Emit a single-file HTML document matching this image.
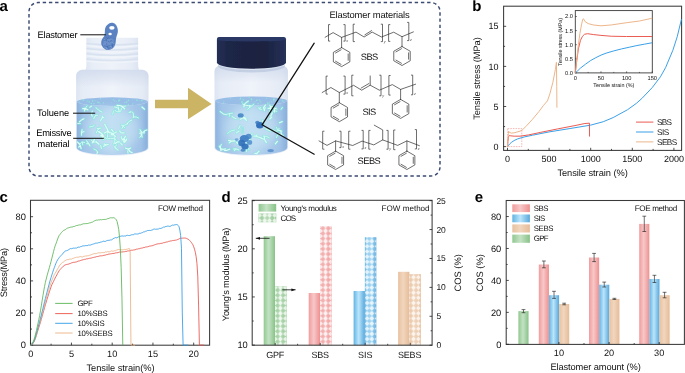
<!DOCTYPE html>
<html><head><meta charset="utf-8"><title>Figure</title>
<style>html,body{margin:0;padding:0;background:#fff;}body{width:685px;height:373px;overflow:hidden;font-family:"Liberation Sans",sans-serif;}svg{display:block;will-change:transform;text-rendering:geometricPrecision;}</style>
</head><body>
<svg width="685" height="373" viewBox="0 0 685 373" font-family="Liberation Sans, sans-serif">
<defs>
<linearGradient id="gG" x1="0" x2="1" y1="0" y2="0"><stop offset="0" stop-color="#90c890"/><stop offset="0.45" stop-color="#c4e2c4"/><stop offset="1" stop-color="#88c288"/></linearGradient>
<linearGradient id="gR" x1="0" x2="1" y1="0" y2="0"><stop offset="0" stop-color="#f19c9c"/><stop offset="0.45" stop-color="#f7c8c8"/><stop offset="1" stop-color="#ef9090"/></linearGradient>
<linearGradient id="gB" x1="0" x2="1" y1="0" y2="0"><stop offset="0" stop-color="#62b4e4"/><stop offset="0.45" stop-color="#bbe5fb"/><stop offset="1" stop-color="#58a8dc"/></linearGradient>
<linearGradient id="gT" x1="0" x2="1" y1="0" y2="0"><stop offset="0" stop-color="#e8c2a0"/><stop offset="0.45" stop-color="#f1d6be"/><stop offset="1" stop-color="#e6bc98"/></linearGradient>
<filter id="b1" x="-20%" y="-20%" width="140%" height="140%"><feGaussianBlur stdDeviation="0.6"/></filter>
<filter id="b2" x="-20%" y="-20%" width="140%" height="140%"><feGaussianBlur stdDeviation="1.2"/></filter>
<filter id="b3" x="-30%" y="-30%" width="160%" height="160%"><feGaussianBlur stdDeviation="4"/></filter>
<filter id="b05" x="-20%" y="-20%" width="140%" height="140%"><feGaussianBlur stdDeviation="0.35"/></filter>
<linearGradient id="glass" x1="0" x2="1" y1="0" y2="0"><stop offset="0" stop-color="#dde5f2"/><stop offset="0.08" stop-color="#e6ecf6"/><stop offset="0.5" stop-color="#eff3fa"/><stop offset="0.92" stop-color="#e5ebf5"/><stop offset="1" stop-color="#dae3f0"/></linearGradient>
<linearGradient id="gshade" x1="0" x2="0" y1="0" y2="1"><stop offset="0" stop-color="#c6d2e8" stop-opacity="0.6"/><stop offset="1" stop-color="#c3d0e6" stop-opacity="0"/></linearGradient>
<linearGradient id="neck" x1="0" x2="1" y1="0" y2="0"><stop offset="0" stop-color="#dbe4f1"/><stop offset="0.15" stop-color="#e8eef7"/><stop offset="0.5" stop-color="#eef2f9"/><stop offset="0.85" stop-color="#e6ecf6"/><stop offset="1" stop-color="#d9e2f0"/></linearGradient>
<linearGradient id="liq" x1="0" x2="1" y1="0" y2="0"><stop offset="0" stop-color="#8db4e0"/><stop offset="0.1" stop-color="#a2c4e8"/><stop offset="0.5" stop-color="#b2d1ee"/><stop offset="0.9" stop-color="#a0c2e7"/><stop offset="1" stop-color="#88b0dc"/></linearGradient>
<linearGradient id="cap" x1="0" x2="1" y1="0" y2="0"><stop offset="0" stop-color="#252f55"/><stop offset="0.2" stop-color="#1c2545"/><stop offset="0.7" stop-color="#1a2240"/><stop offset="1" stop-color="#263158"/></linearGradient>
</defs>
<rect width="685" height="373" fill="#fff"/>
<text x="-0.6" y="10.9" font-size="15" text-anchor="start" font-weight="bold" fill="#000" >a</text>
<text x="472.2" y="11.3" font-size="15" text-anchor="start" font-weight="bold" fill="#000" >b</text>
<text x="-0.5" y="201.9" font-size="15" text-anchor="start" font-weight="bold" fill="#000" >c</text>
<text x="221.5" y="201.9" font-size="15" text-anchor="start" font-weight="bold" fill="#000" >d</text>
<text x="474.7" y="201.9" font-size="15" text-anchor="start" font-weight="bold" fill="#000" >e</text>
<rect x="29.0" y="2.6" width="411.0" height="173.4" rx="9" ry="9" fill="none" stroke="#3b4a71" stroke-width="1.45" stroke-dasharray="3.4 2.8" stroke-dashoffset="1.5"/>
<g filter="url(#b05)">
<path d="M86.4 37.8 L86.4 64 Q86.4 70 84.1 72 L140.5 72 Q138.1 70 138.1 64 L138.1 37.8 Z" fill="url(#neck)"/>
<path d="M86.4 43.5 Q112.3 46.5 138.1 43.5" fill="none" stroke="#d3deee" stroke-width="1.5" opacity="0.8"/>
<path d="M86.4 45.6 Q112.3 48.6 138.1 45.6" fill="none" stroke="#f2f6fb" stroke-width="1.3" opacity="0.8"/>
<path d="M86.4 48.6 Q112.3 51.6 138.1 48.6" fill="none" stroke="#d3deee" stroke-width="1.5" opacity="0.8"/>
<path d="M86.4 50.7 Q112.3 53.7 138.1 50.7" fill="none" stroke="#f2f6fb" stroke-width="1.3" opacity="0.8"/>
<path d="M86.4 53.8 Q112.3 56.8 138.1 53.8" fill="none" stroke="#d3deee" stroke-width="1.5" opacity="0.8"/>
<path d="M86.4 55.9 Q112.3 58.9 138.1 55.9" fill="none" stroke="#f2f6fb" stroke-width="1.3" opacity="0.8"/>
<path d="M86.4 59 Q112.3 62.0 138.1 59" fill="none" stroke="#d3deee" stroke-width="1.5" opacity="0.7"/>
<path d="M86.4 61.1 Q112.3 64.1 138.1 61.1" fill="none" stroke="#f2f6fb" stroke-width="1.3" opacity="0.7"/>
</g>
<g filter="url(#b05)">
<path d="M76.1 76.0 Q76.1 71.0 82.1 69.8 L142.5 69.8 Q148.5 71.0 148.5 76.0 L148.5 148.0 A36.2 7.8 0 0 1 76.1 148.0 Z" fill="url(#glass)"/>
<path d="M76.1 76.0 Q76.1 71.0 82.1 69.8 L142.5 69.8 Q148.5 71.0 148.5 76.0 L148.5 87.0 L76.1 87.0 Z" fill="url(#gshade)"/>
<path d="M76.8 101.6 L76.8 147.6 A35.5 7.3 0 0 0 147.8 147.6 L147.8 101.6 A35.5 4.3 0 0 1 76.8 101.6 Z" fill="url(#liq)"/>
<ellipse cx="112.3" cy="101.6" rx="35.5" ry="4.3" fill="#98bde6"/>
<ellipse cx="112.3" cy="129.6" rx="26.064" ry="22" fill="#d2eef8" opacity="0.5" filter="url(#b3)"/>
</g>
<g filter="url(#b05)">
<circle cx="119.4" cy="100.2" r="0.87" fill="#8ff0d8" opacity="0.72"/>
<circle cx="91.4" cy="103.2" r="0.48" fill="#8ff0d8" opacity="0.59"/>
<circle cx="98.3" cy="102.4" r="0.74" fill="#8ff0d8" opacity="0.69"/>
<circle cx="99.3" cy="102.8" r="0.51" fill="#8ff0d8" opacity="0.82"/>
<circle cx="128.4" cy="100.4" r="0.80" fill="#8ff0d8" opacity="0.64"/>
<circle cx="113.4" cy="99.9" r="0.68" fill="#8ff0d8" opacity="0.68"/>
<circle cx="132.3" cy="99.4" r="0.45" fill="#8ff0d8" opacity="0.54"/>
<circle cx="97.4" cy="102.0" r="0.52" fill="#8ff0d8" opacity="0.93"/>
<circle cx="116.4" cy="101.4" r="0.41" fill="#8ff0d8" opacity="0.78"/>
<circle cx="141.9" cy="100.5" r="0.75" fill="#8ff0d8" opacity="0.83"/>
<circle cx="89.2" cy="101.9" r="0.83" fill="#8ff0d8" opacity="0.55"/>
<circle cx="100.7" cy="98.9" r="0.48" fill="#8ff0d8" opacity="0.85"/>
<circle cx="128.3" cy="104.6" r="0.78" fill="#8ff0d8" opacity="0.71"/>
<circle cx="84.0" cy="99.9" r="0.58" fill="#8ff0d8" opacity="0.59"/>
<circle cx="100.6" cy="98.5" r="0.48" fill="#8ff0d8" opacity="0.84"/>
<circle cx="91.2" cy="103.5" r="0.64" fill="#8ff0d8" opacity="0.93"/>
<circle cx="83.3" cy="100.0" r="0.88" fill="#8ff0d8" opacity="0.56"/>
<circle cx="139.1" cy="100.4" r="0.47" fill="#8ff0d8" opacity="0.76"/>
<circle cx="111.3" cy="102.4" r="0.43" fill="#8ff0d8" opacity="0.66"/>
<circle cx="118.6" cy="100.9" r="0.69" fill="#8ff0d8" opacity="0.89"/>
<circle cx="93.9" cy="103.8" r="0.70" fill="#8ff0d8" opacity="0.84"/>
<circle cx="79.6" cy="102.0" r="0.60" fill="#8ff0d8" opacity="0.60"/>
<circle cx="124.5" cy="102.8" r="0.46" fill="#8ff0d8" opacity="0.92"/>
<circle cx="132.7" cy="104.0" r="0.79" fill="#8ff0d8" opacity="0.71"/>
<circle cx="126.5" cy="102.1" r="0.87" fill="#8ff0d8" opacity="0.69"/>
<circle cx="114.6" cy="100.4" r="0.42" fill="#8ff0d8" opacity="0.66"/>
<circle cx="103.4" cy="102.9" r="0.72" fill="#8ff0d8" opacity="0.76"/>
<circle cx="95.0" cy="100.9" r="0.61" fill="#8ff0d8" opacity="0.62"/>
<circle cx="92.7" cy="100.9" r="0.73" fill="#8ff0d8" opacity="0.93"/>
<circle cx="100.9" cy="104.0" r="0.45" fill="#8ff0d8" opacity="0.87"/>
<circle cx="87.2" cy="101.1" r="0.68" fill="#8ff0d8" opacity="0.55"/>
<circle cx="114.9" cy="101.3" r="0.50" fill="#8ff0d8" opacity="0.72"/>
<circle cx="136.9" cy="100.2" r="0.85" fill="#8ff0d8" opacity="0.65"/>
<circle cx="87.9" cy="100.7" r="0.52" fill="#8ff0d8" opacity="0.54"/>
</g>
<clipPath id="lc11"><path d="M77.1 97.6 L77.1 147.6 A35.2 6.8999999999999995 0 0 0 147.5 147.6 L147.5 97.6 Z"/></clipPath><g clip-path="url(#lc11)">
<g fill="none" stroke-linecap="round" stroke-linejoin="round">
<path d="M109.2 132.6 L111.8 133.0 L113.4 134.4 L115.1 136.5 M111.8 133.0 L111.3 134.6 M142.2 137.1 L141.5 134.3 L139.8 133.4 M101.1 134.1 L102.1 136.9 L103.3 139.6 M102.1 136.9 L104.1 136.7 M84.6 142.5 L82.2 142.0 L79.6 144.2 M82.2 142.0 L82.8 144.9 M120.6 143.1 L122.2 144.9 M125.6 106.1 L123.5 106.4 L121.5 108.0 L120.8 111.0 M93.8 118.6 L95.6 115.5 L97.7 115.2 M89.5 126.9 L92.8 126.4 L94.3 125.2 M120.2 111.7 L116.8 111.8 L115.2 110.4 M127.7 150.9 L128.2 154.3 L130.2 155.9 L130.2 157.8 M128.2 154.3 L126.0 155.9 M91.4 140.3 L93.4 142.1 L96.3 141.9 M93.4 142.1 L93.8 140.5 M83.1 119.2 L81.3 120.1 L79.4 121.9 M118.1 150.1 L115.7 148.2 L114.6 146.7 M144.5 109.2 L141.9 107.0 M102.8 138.6 L103.1 135.1 L101.2 133.2 L98.7 131.6 M103.1 135.1 L100.7 135.8 M127.0 124.3 L128.3 122.1 L129.9 121.0 L131.6 120.2 M112.1 135.2 L114.6 132.9 L116.4 131.9 M140.0 129.6 L141.7 132.1 L141.8 134.7 L139.8 137.4 M141.7 132.1 L140.0 132.1 M82.7 108.7 L84.7 108.3 L87.8 109.8 M84.7 108.3 L84.5 110.9 M100.7 145.5 L101.4 148.5 M121.4 125.1 L123.3 126.3 L124.6 127.6 M123.3 126.3 L121.9 128.4 M91.6 106.1 L89.8 107.3 M119.7 142.0 L117.7 141.8 L115.1 143.5 M104.4 133.0 L106.7 131.8 L108.9 131.6 M93.8 149.0 L96.4 150.1 L97.4 152.2 M108.5 132.1 L107.2 128.9 L105.5 126.0 L104.7 124.3 M113.5 138.3 L110.6 138.4 L107.5 138.8 L105.0 137.6 M138.5 118.0 L136.4 117.0 L133.6 116.9 M80.4 123.8 L77.7 123.6 M124.6 108.8 L122.2 106.3 L119.8 105.5 L117.1 105.4 M113.9 110.8 L112.6 114.0 M94.7 138.7 L93.8 140.7 L92.2 143.0 M125.3 148.0 L128.3 149.1 L129.8 151.4 L132.2 152.8 M128.3 149.1 L130.7 148.0 M100.4 120.8 L102.1 118.0 L103.9 117.4 M102.1 118.0 L102.5 116.4 M131.0 111.7 L129.2 112.6 M125.5 136.2 L123.8 138.9 L122.2 139.9 M92.3 111.1 L91.3 114.6 L92.3 116.3 M101.1 128.1 L99.0 128.4 L97.3 130.8 L96.4 132.8 M99.0 128.4 L97.2 128.5 M81.1 148.7 L80.4 145.9 L79.0 143.4 L76.5 141.5 M80.4 145.9 L78.7 147.1 M124.8 142.6 L123.9 140.6 L121.5 138.5 L121.2 136.5 M97.7 151.9 L96.4 154.7 L95.8 157.3 M81.6 135.3 L81.4 132.7 L82.1 129.6 M81.4 132.7 L84.0 131.5 M142.4 133.0 L144.7 130.7 L147.4 129.7 L149.1 130.5 M144.7 130.7 L144.0 133.3 M107.8 129.4 L107.8 132.3 L107.3 134.6 L107.6 137.3 M95.9 107.7 L97.4 108.8 L99.1 110.6 L101.9 112.0 M96.3 142.0 L99.0 144.2 M119.0 111.1 L118.7 109.2 L117.0 107.4 L114.6 107.0 M118.7 109.2 L118.1 106.7 M132.6 112.2 L133.5 114.2 L133.3 117.6 M124.2 132.8 L121.1 132.8 L119.6 131.0 M84.0 118.7 L82.2 119.4 M115.6 136.0 L114.4 138.2 L114.9 140.8 L113.7 144.0 M114.4 138.2 L116.1 140.2 M90.0 145.9 L88.6 143.5 L86.5 140.7 M88.6 143.5 L86.6 143.8 M116.7 144.9 L115.3 146.2 M126.8 139.0 L125.8 141.0 L123.5 141.8 M125.8 141.0 L123.7 138.9 M108.3 144.3 L106.3 145.1 L103.4 146.2 M106.3 145.1 L104.0 144.0 M127.7 123.3 L124.9 125.2 L122.8 125.4 M113.3 131.8 L111.6 129.4 M85.5 109.5 L85.8 107.6 L87.0 105.9" stroke="#74efd2" stroke-width="2.6" opacity="0.5" filter="url(#b1)"/>
<path d="M109.2 132.6 L111.8 133.0 L113.4 134.4 L115.1 136.5 M111.8 133.0 L111.3 134.6" stroke="#e2fff8" stroke-width="1.16" opacity="0.92" filter="url(#b05)"/>
<path d="M142.2 137.1 L141.5 134.3 L139.8 133.4" stroke="#e2fff8" stroke-width="1.07" opacity="0.94" filter="url(#b05)"/>
<path d="M101.1 134.1 L102.1 136.9 L103.3 139.6 M102.1 136.9 L104.1 136.7" stroke="#e2fff8" stroke-width="0.90" opacity="0.82" filter="url(#b05)"/>
<path d="M84.6 142.5 L82.2 142.0 L79.6 144.2 M82.2 142.0 L82.8 144.9" stroke="#e2fff8" stroke-width="0.98" opacity="0.77" filter="url(#b05)"/>
<path d="M120.6 143.1 L122.2 144.9" stroke="#e2fff8" stroke-width="1.22" opacity="0.78" filter="url(#b05)"/>
<path d="M125.6 106.1 L123.5 106.4 L121.5 108.0 L120.8 111.0" stroke="#e2fff8" stroke-width="0.85" opacity="0.86" filter="url(#b05)"/>
<path d="M93.8 118.6 L95.6 115.5 L97.7 115.2" stroke="#e2fff8" stroke-width="1.06" opacity="0.76" filter="url(#b05)"/>
<path d="M89.5 126.9 L92.8 126.4 L94.3 125.2" stroke="#e2fff8" stroke-width="0.81" opacity="0.84" filter="url(#b05)"/>
<path d="M120.2 111.7 L116.8 111.8 L115.2 110.4" stroke="#e2fff8" stroke-width="0.91" opacity="0.80" filter="url(#b05)"/>
<path d="M127.7 150.9 L128.2 154.3 L130.2 155.9 L130.2 157.8 M128.2 154.3 L126.0 155.9" stroke="#e2fff8" stroke-width="1.07" opacity="0.82" filter="url(#b05)"/>
<path d="M91.4 140.3 L93.4 142.1 L96.3 141.9 M93.4 142.1 L93.8 140.5" stroke="#e2fff8" stroke-width="0.99" opacity="0.81" filter="url(#b05)"/>
<path d="M83.1 119.2 L81.3 120.1 L79.4 121.9" stroke="#e2fff8" stroke-width="1.03" opacity="0.99" filter="url(#b05)"/>
<path d="M118.1 150.1 L115.7 148.2 L114.6 146.7" stroke="#e2fff8" stroke-width="1.13" opacity="0.83" filter="url(#b05)"/>
<path d="M144.5 109.2 L141.9 107.0" stroke="#e2fff8" stroke-width="1.16" opacity="0.98" filter="url(#b05)"/>
<path d="M102.8 138.6 L103.1 135.1 L101.2 133.2 L98.7 131.6 M103.1 135.1 L100.7 135.8" stroke="#e2fff8" stroke-width="1.25" opacity="0.97" filter="url(#b05)"/>
<path d="M127.0 124.3 L128.3 122.1 L129.9 121.0 L131.6 120.2" stroke="#e2fff8" stroke-width="0.90" opacity="0.92" filter="url(#b05)"/>
<path d="M112.1 135.2 L114.6 132.9 L116.4 131.9" stroke="#e2fff8" stroke-width="1.14" opacity="0.84" filter="url(#b05)"/>
<path d="M140.0 129.6 L141.7 132.1 L141.8 134.7 L139.8 137.4 M141.7 132.1 L140.0 132.1" stroke="#e2fff8" stroke-width="0.96" opacity="0.97" filter="url(#b05)"/>
<path d="M82.7 108.7 L84.7 108.3 L87.8 109.8 M84.7 108.3 L84.5 110.9" stroke="#e2fff8" stroke-width="1.18" opacity="0.91" filter="url(#b05)"/>
<path d="M100.7 145.5 L101.4 148.5" stroke="#e2fff8" stroke-width="1.09" opacity="0.89" filter="url(#b05)"/>
<path d="M121.4 125.1 L123.3 126.3 L124.6 127.6 M123.3 126.3 L121.9 128.4" stroke="#e2fff8" stroke-width="0.89" opacity="0.87" filter="url(#b05)"/>
<path d="M91.6 106.1 L89.8 107.3" stroke="#e2fff8" stroke-width="1.11" opacity="0.88" filter="url(#b05)"/>
<path d="M119.7 142.0 L117.7 141.8 L115.1 143.5" stroke="#e2fff8" stroke-width="1.08" opacity="0.98" filter="url(#b05)"/>
<path d="M104.4 133.0 L106.7 131.8 L108.9 131.6" stroke="#e2fff8" stroke-width="1.09" opacity="0.93" filter="url(#b05)"/>
<path d="M93.8 149.0 L96.4 150.1 L97.4 152.2" stroke="#e2fff8" stroke-width="0.96" opacity="0.77" filter="url(#b05)"/>
<path d="M108.5 132.1 L107.2 128.9 L105.5 126.0 L104.7 124.3" stroke="#e2fff8" stroke-width="1.21" opacity="0.87" filter="url(#b05)"/>
<path d="M113.5 138.3 L110.6 138.4 L107.5 138.8 L105.0 137.6" stroke="#e2fff8" stroke-width="0.87" opacity="0.88" filter="url(#b05)"/>
<path d="M138.5 118.0 L136.4 117.0 L133.6 116.9" stroke="#e2fff8" stroke-width="0.98" opacity="0.78" filter="url(#b05)"/>
<path d="M80.4 123.8 L77.7 123.6" stroke="#e2fff8" stroke-width="1.05" opacity="0.87" filter="url(#b05)"/>
<path d="M124.6 108.8 L122.2 106.3 L119.8 105.5 L117.1 105.4" stroke="#e2fff8" stroke-width="1.22" opacity="0.98" filter="url(#b05)"/>
<path d="M113.9 110.8 L112.6 114.0" stroke="#e2fff8" stroke-width="0.81" opacity="0.80" filter="url(#b05)"/>
<path d="M94.7 138.7 L93.8 140.7 L92.2 143.0" stroke="#e2fff8" stroke-width="1.08" opacity="0.93" filter="url(#b05)"/>
<path d="M125.3 148.0 L128.3 149.1 L129.8 151.4 L132.2 152.8 M128.3 149.1 L130.7 148.0" stroke="#e2fff8" stroke-width="1.16" opacity="0.98" filter="url(#b05)"/>
<path d="M100.4 120.8 L102.1 118.0 L103.9 117.4 M102.1 118.0 L102.5 116.4" stroke="#e2fff8" stroke-width="1.17" opacity="0.86" filter="url(#b05)"/>
<path d="M131.0 111.7 L129.2 112.6" stroke="#e2fff8" stroke-width="1.17" opacity="0.84" filter="url(#b05)"/>
<path d="M125.5 136.2 L123.8 138.9 L122.2 139.9" stroke="#e2fff8" stroke-width="1.21" opacity="0.87" filter="url(#b05)"/>
<path d="M92.3 111.1 L91.3 114.6 L92.3 116.3" stroke="#e2fff8" stroke-width="1.01" opacity="0.94" filter="url(#b05)"/>
<path d="M101.1 128.1 L99.0 128.4 L97.3 130.8 L96.4 132.8 M99.0 128.4 L97.2 128.5" stroke="#e2fff8" stroke-width="0.87" opacity="0.88" filter="url(#b05)"/>
<path d="M81.1 148.7 L80.4 145.9 L79.0 143.4 L76.5 141.5 M80.4 145.9 L78.7 147.1" stroke="#e2fff8" stroke-width="1.20" opacity="0.97" filter="url(#b05)"/>
<path d="M124.8 142.6 L123.9 140.6 L121.5 138.5 L121.2 136.5" stroke="#e2fff8" stroke-width="1.21" opacity="0.76" filter="url(#b05)"/>
<path d="M97.7 151.9 L96.4 154.7 L95.8 157.3" stroke="#e2fff8" stroke-width="1.09" opacity="0.93" filter="url(#b05)"/>
<path d="M81.6 135.3 L81.4 132.7 L82.1 129.6 M81.4 132.7 L84.0 131.5" stroke="#e2fff8" stroke-width="1.05" opacity="0.88" filter="url(#b05)"/>
<path d="M142.4 133.0 L144.7 130.7 L147.4 129.7 L149.1 130.5 M144.7 130.7 L144.0 133.3" stroke="#e2fff8" stroke-width="1.04" opacity="0.90" filter="url(#b05)"/>
<path d="M107.8 129.4 L107.8 132.3 L107.3 134.6 L107.6 137.3" stroke="#e2fff8" stroke-width="0.93" opacity="0.75" filter="url(#b05)"/>
<path d="M95.9 107.7 L97.4 108.8 L99.1 110.6 L101.9 112.0" stroke="#e2fff8" stroke-width="0.90" opacity="0.93" filter="url(#b05)"/>
<path d="M96.3 142.0 L99.0 144.2" stroke="#e2fff8" stroke-width="1.24" opacity="0.95" filter="url(#b05)"/>
<path d="M119.0 111.1 L118.7 109.2 L117.0 107.4 L114.6 107.0 M118.7 109.2 L118.1 106.7" stroke="#e2fff8" stroke-width="0.96" opacity="0.94" filter="url(#b05)"/>
<path d="M132.6 112.2 L133.5 114.2 L133.3 117.6" stroke="#e2fff8" stroke-width="0.96" opacity="0.82" filter="url(#b05)"/>
<path d="M124.2 132.8 L121.1 132.8 L119.6 131.0" stroke="#e2fff8" stroke-width="1.20" opacity="0.76" filter="url(#b05)"/>
<path d="M84.0 118.7 L82.2 119.4" stroke="#e2fff8" stroke-width="0.84" opacity="0.92" filter="url(#b05)"/>
<path d="M115.6 136.0 L114.4 138.2 L114.9 140.8 L113.7 144.0 M114.4 138.2 L116.1 140.2" stroke="#e2fff8" stroke-width="0.98" opacity="0.79" filter="url(#b05)"/>
<path d="M90.0 145.9 L88.6 143.5 L86.5 140.7 M88.6 143.5 L86.6 143.8" stroke="#e2fff8" stroke-width="1.04" opacity="0.86" filter="url(#b05)"/>
<path d="M116.7 144.9 L115.3 146.2" stroke="#e2fff8" stroke-width="0.84" opacity="0.83" filter="url(#b05)"/>
<path d="M126.8 139.0 L125.8 141.0 L123.5 141.8 M125.8 141.0 L123.7 138.9" stroke="#e2fff8" stroke-width="1.22" opacity="0.98" filter="url(#b05)"/>
<path d="M108.3 144.3 L106.3 145.1 L103.4 146.2 M106.3 145.1 L104.0 144.0" stroke="#e2fff8" stroke-width="1.06" opacity="0.95" filter="url(#b05)"/>
<path d="M127.7 123.3 L124.9 125.2 L122.8 125.4" stroke="#e2fff8" stroke-width="0.93" opacity="0.76" filter="url(#b05)"/>
<path d="M113.3 131.8 L111.6 129.4" stroke="#e2fff8" stroke-width="1.05" opacity="0.95" filter="url(#b05)"/>
<path d="M85.5 109.5 L85.8 107.6 L87.0 105.9" stroke="#e2fff8" stroke-width="0.91" opacity="0.81" filter="url(#b05)"/>
</g>
</g>
<g filter="url(#b05)">
<path d="M105.65 27.05 Q106.30 25.60 108.35 24.00 Q110.40 22.40 112.60 22.80 Q114.80 23.20 116.10 25.10 Q117.40 27.00 117.80 29.50 Q118.20 32.00 117.30 34.25 Q116.40 36.50 116.10 38.25 Q115.80 40.00 115.70 42.25 Q115.60 44.50 114.20 46.65 Q112.80 48.80 110.40 49.60 Q108.00 50.40 105.60 49.40 Q103.20 48.40 102.00 45.95 Q100.80 43.50 101.30 41.15 Q101.80 38.80 103.20 37.40 Q104.60 36.00 104.70 34.25 Q104.80 32.50 104.90 30.50 Q105.00 28.50 105.65 27.05 Z M109.2 27.8 A2.7 1.9 0 1 0 114.60000000000001 27.8 A2.7 1.9 0 1 0 109.2 27.8 Z M108.39999999999999 34.0 A1.7 1.3 0 1 0 111.8 34.0 A1.7 1.3 0 1 0 108.39999999999999 34.0 Z" fill="#4f79bd" opacity="0.93" fill-rule="evenodd"/>
<ellipse cx="108.6" cy="43.4" rx="5.8" ry="6.0" fill="#7a9cd2" opacity="0.6"/>
<circle cx="105.1" cy="39.5" r="0.63" fill="#8eaad8" opacity="0.75"/>
<circle cx="106.2" cy="39.5" r="0.64" fill="#3f68ad" opacity="0.75"/>
<circle cx="105.4" cy="38.5" r="0.39" fill="#466fb4" opacity="0.75"/>
<circle cx="110.9" cy="40.4" r="0.39" fill="#3f68ad" opacity="0.75"/>
<circle cx="111.2" cy="43.4" r="0.45" fill="#466fb4" opacity="0.75"/>
<circle cx="111.3" cy="47.9" r="0.40" fill="#8eaad8" opacity="0.75"/>
<circle cx="106.7" cy="44.0" r="0.69" fill="#3f68ad" opacity="0.75"/>
<circle cx="109.3" cy="46.0" r="0.69" fill="#3f68ad" opacity="0.75"/>
<circle cx="107.3" cy="49.1" r="0.54" fill="#8eaad8" opacity="0.75"/>
<circle cx="106.9" cy="41.3" r="0.69" fill="#3f68ad" opacity="0.75"/>
<circle cx="113.8" cy="42.0" r="0.45" fill="#466fb4" opacity="0.75"/>
<circle cx="103.9" cy="46.3" r="0.44" fill="#466fb4" opacity="0.75"/>
<circle cx="107.2" cy="47.8" r="0.35" fill="#8eaad8" opacity="0.75"/>
<circle cx="108.2" cy="41.7" r="0.47" fill="#466fb4" opacity="0.75"/>
<circle cx="105.5" cy="43.6" r="0.52" fill="#8eaad8" opacity="0.75"/>
<circle cx="109.9" cy="46.0" r="0.68" fill="#8eaad8" opacity="0.75"/>
<circle cx="106.4" cy="46.3" r="0.54" fill="#466fb4" opacity="0.75"/>
<circle cx="105.8" cy="46.7" r="0.35" fill="#3f68ad" opacity="0.75"/>
<circle cx="107.4" cy="38.5" r="0.68" fill="#3f68ad" opacity="0.75"/>
<circle cx="108.8" cy="37.2" r="0.68" fill="#466fb4" opacity="0.75"/>
<circle cx="103.3" cy="42.7" r="0.44" fill="#466fb4" opacity="0.75"/>
<circle cx="112.4" cy="46.6" r="0.63" fill="#466fb4" opacity="0.75"/>
<circle cx="113.9" cy="44.6" r="0.38" fill="#466fb4" opacity="0.75"/>
<circle cx="105.2" cy="42.9" r="0.40" fill="#466fb4" opacity="0.75"/>
<circle cx="112.3" cy="41.1" r="0.46" fill="#466fb4" opacity="0.75"/>
<circle cx="106.9" cy="48.4" r="0.57" fill="#8eaad8" opacity="0.75"/>
<circle cx="106.5" cy="37.5" r="0.41" fill="#3f68ad" opacity="0.75"/>
<circle cx="112.4" cy="45.5" r="0.67" fill="#3f68ad" opacity="0.75"/>
<circle cx="108.9" cy="48.0" r="0.64" fill="#466fb4" opacity="0.75"/>
<circle cx="107.4" cy="41.3" r="0.69" fill="#8eaad8" opacity="0.75"/>
<circle cx="112.5" cy="44.1" r="0.64" fill="#3f68ad" opacity="0.75"/>
<circle cx="112.8" cy="42.7" r="0.40" fill="#466fb4" opacity="0.75"/>
<circle cx="111.5" cy="45.7" r="0.40" fill="#466fb4" opacity="0.75"/>
<circle cx="107.6" cy="47.2" r="0.70" fill="#3f68ad" opacity="0.75"/>
<circle cx="112.3" cy="42.6" r="0.52" fill="#8eaad8" opacity="0.75"/>
<circle cx="107.4" cy="46.2" r="0.51" fill="#3f68ad" opacity="0.75"/>
<circle cx="112.5" cy="46.9" r="0.54" fill="#3f68ad" opacity="0.75"/>
<circle cx="105.8" cy="40.1" r="0.47" fill="#3f68ad" opacity="0.75"/>
<g fill="none" stroke="#3f68ad" stroke-width="0.7" opacity="0.7"><path d="M103.5 41 q2 -2.2 4 0 q2 2 4.5 -0.6"/><path d="M104 45.6 q3 1.8 6.5 -0.4 q2 -1 3.5 0"/><path d="M106.5 38.2 q2.5 1 5 -0.5"/><path d="M107 48 q2 0.8 4 -0.4"/></g>
</g>
<text x="37.6" y="37.9" font-size="9.3" text-anchor="start" font-weight="normal" fill="#000" textLength="40.0" lengthAdjust="spacing" >Elastomer</text>
<line x1="80.30" y1="34.80" x2="105.80" y2="34.80" stroke="#111" stroke-width="1.0" />
<text x="37.0" y="115.5" font-size="9.3" text-anchor="start" font-weight="normal" fill="#000" textLength="32.2" lengthAdjust="spacing" >Toluene</text>
<line x1="73.00" y1="113.20" x2="95.20" y2="113.20" stroke="#111" stroke-width="1.0" />
<text x="36.2" y="136.2" font-size="9.3" text-anchor="start" font-weight="normal" fill="#000" textLength="35.4" lengthAdjust="spacing" >Emissive</text>
<text x="37.6" y="146.5" font-size="9.3" text-anchor="start" font-weight="normal" fill="#000" textLength="32.0" lengthAdjust="spacing" >material</text>
<line x1="73.20" y1="138.30" x2="103.80" y2="138.30" stroke="#111" stroke-width="1.0" />
<path d="M155 99.8 L188 99.8 L188 87.8 L211.6 104 L188 119.2 L188 108.2 L155 108.2 Z" fill="#cbb463"/>
<g filter="url(#b05)">
<path d="M214.5 71.5 Q214.5 66.5 220.5 65.3 L281.9 65.3 Q287.9 66.5 287.9 71.5 L287.9 148.0 A36.7 7.8 0 0 1 214.5 148.0 Z" fill="url(#glass)"/>
<path d="M214.5 71.5 Q214.5 66.5 220.5 65.3 L281.9 65.3 Q287.9 66.5 287.9 71.5 L287.9 82.5 L214.5 82.5 Z" fill="url(#gshade)"/>
<path d="M215.2 100.8 L215.2 147.6 A36.0 7.3 0 0 0 287.2 147.6 L287.2 100.8 A36.0 4.3 0 0 1 215.2 100.8 Z" fill="url(#liq)"/>
<ellipse cx="251.2" cy="100.8" rx="36.0" ry="4.3" fill="#98bde6"/>
<ellipse cx="251.2" cy="128.8" rx="26.424" ry="22" fill="#d2eef8" opacity="0.5" filter="url(#b3)"/>
</g>
<g filter="url(#b05)">
<circle cx="260.6" cy="101.1" r="0.60" fill="#8ff0d8" opacity="0.55"/>
<circle cx="256.6" cy="100.4" r="0.67" fill="#8ff0d8" opacity="0.65"/>
<circle cx="259.3" cy="99.7" r="0.57" fill="#8ff0d8" opacity="0.65"/>
<circle cx="251.2" cy="100.9" r="0.62" fill="#8ff0d8" opacity="0.54"/>
<circle cx="243.9" cy="100.3" r="0.56" fill="#8ff0d8" opacity="0.70"/>
<circle cx="259.7" cy="100.2" r="0.47" fill="#8ff0d8" opacity="0.86"/>
<circle cx="283.1" cy="101.2" r="0.69" fill="#8ff0d8" opacity="0.62"/>
<circle cx="266.7" cy="98.2" r="0.57" fill="#8ff0d8" opacity="0.86"/>
<circle cx="258.2" cy="103.4" r="0.66" fill="#8ff0d8" opacity="0.86"/>
<circle cx="242.7" cy="102.8" r="0.78" fill="#8ff0d8" opacity="0.73"/>
<circle cx="240.5" cy="98.2" r="0.73" fill="#8ff0d8" opacity="0.90"/>
<circle cx="223.8" cy="101.0" r="0.59" fill="#8ff0d8" opacity="0.51"/>
<circle cx="251.6" cy="99.3" r="0.81" fill="#8ff0d8" opacity="0.91"/>
<circle cx="243.6" cy="99.6" r="0.57" fill="#8ff0d8" opacity="0.68"/>
<circle cx="271.6" cy="101.9" r="0.69" fill="#8ff0d8" opacity="0.65"/>
<circle cx="254.9" cy="101.8" r="0.71" fill="#8ff0d8" opacity="0.51"/>
<circle cx="241.6" cy="102.1" r="0.67" fill="#8ff0d8" opacity="0.83"/>
<circle cx="273.9" cy="99.3" r="0.90" fill="#8ff0d8" opacity="0.93"/>
<circle cx="240.1" cy="99.6" r="0.64" fill="#8ff0d8" opacity="0.58"/>
<circle cx="273.6" cy="100.7" r="0.78" fill="#8ff0d8" opacity="0.52"/>
<circle cx="261.0" cy="102.0" r="0.53" fill="#8ff0d8" opacity="0.66"/>
<circle cx="248.1" cy="103.1" r="0.61" fill="#8ff0d8" opacity="0.55"/>
<circle cx="269.7" cy="101.6" r="0.44" fill="#8ff0d8" opacity="0.69"/>
<circle cx="275.8" cy="100.9" r="0.44" fill="#8ff0d8" opacity="0.81"/>
<circle cx="223.6" cy="102.8" r="0.53" fill="#8ff0d8" opacity="0.71"/>
<circle cx="251.3" cy="98.8" r="0.57" fill="#8ff0d8" opacity="0.79"/>
<circle cx="282.3" cy="100.2" r="0.61" fill="#8ff0d8" opacity="0.82"/>
<circle cx="242.3" cy="98.9" r="0.52" fill="#8ff0d8" opacity="0.54"/>
<circle cx="257.0" cy="100.2" r="0.66" fill="#8ff0d8" opacity="0.74"/>
<circle cx="267.8" cy="103.1" r="0.86" fill="#8ff0d8" opacity="0.85"/>
<circle cx="242.0" cy="101.6" r="0.89" fill="#8ff0d8" opacity="0.73"/>
<circle cx="230.5" cy="98.5" r="0.59" fill="#8ff0d8" opacity="0.53"/>
<circle cx="269.3" cy="103.0" r="0.57" fill="#8ff0d8" opacity="0.89"/>
<circle cx="249.1" cy="97.3" r="0.73" fill="#8ff0d8" opacity="0.64"/>
</g>
<clipPath id="lc23"><path d="M215.5 96.8 L215.5 147.6 A35.7 6.8999999999999995 0 0 0 286.9 147.6 L286.9 96.8 Z"/></clipPath><g clip-path="url(#lc23)">
<g fill="none" stroke-linecap="round" stroke-linejoin="round">
<path d="M276.9 108.9 L274.5 108.1 L271.4 108.4 L269.6 108.2 M251.1 105.8 L248.6 105.7 L245.5 105.2 L242.7 104.1 M242.6 132.8 L242.6 130.0 L242.6 127.9 M270.8 130.9 L268.1 130.0 L265.8 128.9 M225.6 148.9 L222.9 149.4 L221.0 148.7 L219.2 146.2 M222.9 149.4 L220.7 150.3 M282.3 107.5 L281.2 109.3 M247.6 109.3 L249.6 107.6 L251.4 106.2 L253.8 104.1 M249.6 107.6 L249.6 105.3 M271.7 117.2 L269.8 119.0 M263.5 125.0 L262.2 122.6 L262.5 120.3 M220.2 111.6 L222.0 112.9 L223.5 114.1 L226.2 114.8 M265.5 105.0 L263.6 107.6 L264.4 110.7 M246.0 118.4 L243.3 117.7 L240.3 119.3 M269.3 137.8 L266.6 136.4 L263.4 136.1 M276.5 137.5 L277.5 135.0 L279.7 133.8 M236.7 142.5 L238.4 143.9 M221.3 144.4 L220.2 147.0 L220.9 150.1 M283.0 135.4 L281.4 134.4 L280.9 131.3 M281.4 134.4 L279.5 134.3 M270.5 107.1 L272.7 106.2 M246.4 120.3 L244.3 118.2 L243.0 116.4 L240.9 114.1 M238.8 150.0 L236.0 148.7 L233.2 149.0 M236.0 148.7 L234.4 150.8 M279.4 122.8 L282.2 121.6 M281.8 131.1 L278.6 130.4 L276.1 131.3 L273.4 129.8 M235.2 140.9 L231.6 141.1 L228.6 140.4 M231.6 141.1 L229.2 142.9 M248.9 141.6 L250.1 139.2 L250.5 136.3 L252.1 133.9 M236.1 118.7 L233.8 117.8 L232.1 116.4 M269.6 111.6 L271.0 108.4 L269.8 105.3 M271.0 108.4 L268.0 108.4 M236.3 132.9 L239.1 131.0 M272.1 113.4 L270.6 116.2 M243.8 107.0 L244.7 103.9 L246.2 102.6 L248.2 101.2 M274.3 108.8 L274.5 112.1 M227.6 133.4 L230.1 131.4 L232.0 130.6 L234.9 130.0 M261.5 109.6 L259.6 108.9 L258.2 107.6 M259.6 108.9 L260.3 107.4 M276.4 127.3 L277.4 129.5 L280.7 130.8 M277.4 129.5 L279.3 128.6 M271.9 112.8 L274.2 110.6 L275.8 107.9 M274.2 110.6 L276.8 111.4 M243.2 136.2 L244.6 137.5 M266.4 142.6 L264.6 139.6 L261.4 138.3 M264.6 139.6 L264.4 136.7 M259.1 151.1 L257.1 153.2 L256.8 155.6 M257.1 153.2 L254.8 153.6 M265.3 107.5 L264.6 109.6 M246.3 148.2 L246.2 151.5 M232.5 113.2 L229.8 113.5 L226.7 114.3 M229.8 113.5 L229.3 116.2 M239.1 143.6 L241.1 143.9 M229.6 149.2 L227.0 150.3 L224.3 150.3 M277.4 141.4 L275.3 143.8 M253.9 136.2 L255.7 136.2 L258.8 137.1 L261.8 138.2 M255.7 136.2 L257.0 134.8 M238.7 128.6 L240.0 125.7 M246.9 143.5 L246.9 147.0 L249.0 149.6" stroke="#74efd2" stroke-width="2.6" opacity="0.5" filter="url(#b1)"/>
<path d="M276.9 108.9 L274.5 108.1 L271.4 108.4 L269.6 108.2" stroke="#e2fff8" stroke-width="0.85" opacity="1.00" filter="url(#b05)"/>
<path d="M251.1 105.8 L248.6 105.7 L245.5 105.2 L242.7 104.1" stroke="#e2fff8" stroke-width="0.96" opacity="0.94" filter="url(#b05)"/>
<path d="M242.6 132.8 L242.6 130.0 L242.6 127.9" stroke="#e2fff8" stroke-width="1.10" opacity="0.79" filter="url(#b05)"/>
<path d="M270.8 130.9 L268.1 130.0 L265.8 128.9" stroke="#e2fff8" stroke-width="0.93" opacity="0.90" filter="url(#b05)"/>
<path d="M225.6 148.9 L222.9 149.4 L221.0 148.7 L219.2 146.2 M222.9 149.4 L220.7 150.3" stroke="#e2fff8" stroke-width="1.23" opacity="0.79" filter="url(#b05)"/>
<path d="M282.3 107.5 L281.2 109.3" stroke="#e2fff8" stroke-width="0.90" opacity="0.94" filter="url(#b05)"/>
<path d="M247.6 109.3 L249.6 107.6 L251.4 106.2 L253.8 104.1 M249.6 107.6 L249.6 105.3" stroke="#e2fff8" stroke-width="0.88" opacity="0.89" filter="url(#b05)"/>
<path d="M271.7 117.2 L269.8 119.0" stroke="#e2fff8" stroke-width="1.17" opacity="0.97" filter="url(#b05)"/>
<path d="M263.5 125.0 L262.2 122.6 L262.5 120.3" stroke="#e2fff8" stroke-width="0.82" opacity="0.82" filter="url(#b05)"/>
<path d="M220.2 111.6 L222.0 112.9 L223.5 114.1 L226.2 114.8" stroke="#e2fff8" stroke-width="1.01" opacity="0.86" filter="url(#b05)"/>
<path d="M265.5 105.0 L263.6 107.6 L264.4 110.7" stroke="#e2fff8" stroke-width="1.14" opacity="0.99" filter="url(#b05)"/>
<path d="M246.0 118.4 L243.3 117.7 L240.3 119.3" stroke="#e2fff8" stroke-width="1.19" opacity="0.87" filter="url(#b05)"/>
<path d="M269.3 137.8 L266.6 136.4 L263.4 136.1" stroke="#e2fff8" stroke-width="0.87" opacity="0.76" filter="url(#b05)"/>
<path d="M276.5 137.5 L277.5 135.0 L279.7 133.8" stroke="#e2fff8" stroke-width="0.87" opacity="0.84" filter="url(#b05)"/>
<path d="M236.7 142.5 L238.4 143.9" stroke="#e2fff8" stroke-width="1.24" opacity="0.91" filter="url(#b05)"/>
<path d="M221.3 144.4 L220.2 147.0 L220.9 150.1" stroke="#e2fff8" stroke-width="1.07" opacity="0.84" filter="url(#b05)"/>
<path d="M283.0 135.4 L281.4 134.4 L280.9 131.3 M281.4 134.4 L279.5 134.3" stroke="#e2fff8" stroke-width="1.20" opacity="0.82" filter="url(#b05)"/>
<path d="M270.5 107.1 L272.7 106.2" stroke="#e2fff8" stroke-width="1.19" opacity="0.80" filter="url(#b05)"/>
<path d="M246.4 120.3 L244.3 118.2 L243.0 116.4 L240.9 114.1" stroke="#e2fff8" stroke-width="1.23" opacity="0.91" filter="url(#b05)"/>
<path d="M238.8 150.0 L236.0 148.7 L233.2 149.0 M236.0 148.7 L234.4 150.8" stroke="#e2fff8" stroke-width="1.01" opacity="0.79" filter="url(#b05)"/>
<path d="M279.4 122.8 L282.2 121.6" stroke="#e2fff8" stroke-width="1.17" opacity="0.89" filter="url(#b05)"/>
<path d="M281.8 131.1 L278.6 130.4 L276.1 131.3 L273.4 129.8" stroke="#e2fff8" stroke-width="0.80" opacity="0.91" filter="url(#b05)"/>
<path d="M235.2 140.9 L231.6 141.1 L228.6 140.4 M231.6 141.1 L229.2 142.9" stroke="#e2fff8" stroke-width="1.14" opacity="0.95" filter="url(#b05)"/>
<path d="M248.9 141.6 L250.1 139.2 L250.5 136.3 L252.1 133.9" stroke="#e2fff8" stroke-width="1.04" opacity="0.80" filter="url(#b05)"/>
<path d="M236.1 118.7 L233.8 117.8 L232.1 116.4" stroke="#e2fff8" stroke-width="1.05" opacity="0.77" filter="url(#b05)"/>
<path d="M269.6 111.6 L271.0 108.4 L269.8 105.3 M271.0 108.4 L268.0 108.4" stroke="#e2fff8" stroke-width="1.08" opacity="0.88" filter="url(#b05)"/>
<path d="M236.3 132.9 L239.1 131.0" stroke="#e2fff8" stroke-width="1.13" opacity="0.77" filter="url(#b05)"/>
<path d="M272.1 113.4 L270.6 116.2" stroke="#e2fff8" stroke-width="1.22" opacity="0.90" filter="url(#b05)"/>
<path d="M243.8 107.0 L244.7 103.9 L246.2 102.6 L248.2 101.2" stroke="#e2fff8" stroke-width="1.21" opacity="0.85" filter="url(#b05)"/>
<path d="M274.3 108.8 L274.5 112.1" stroke="#e2fff8" stroke-width="1.16" opacity="0.79" filter="url(#b05)"/>
<path d="M227.6 133.4 L230.1 131.4 L232.0 130.6 L234.9 130.0" stroke="#e2fff8" stroke-width="0.89" opacity="0.77" filter="url(#b05)"/>
<path d="M261.5 109.6 L259.6 108.9 L258.2 107.6 M259.6 108.9 L260.3 107.4" stroke="#e2fff8" stroke-width="0.91" opacity="0.84" filter="url(#b05)"/>
<path d="M276.4 127.3 L277.4 129.5 L280.7 130.8 M277.4 129.5 L279.3 128.6" stroke="#e2fff8" stroke-width="0.81" opacity="0.76" filter="url(#b05)"/>
<path d="M271.9 112.8 L274.2 110.6 L275.8 107.9 M274.2 110.6 L276.8 111.4" stroke="#e2fff8" stroke-width="0.85" opacity="0.88" filter="url(#b05)"/>
<path d="M243.2 136.2 L244.6 137.5" stroke="#e2fff8" stroke-width="1.11" opacity="0.78" filter="url(#b05)"/>
<path d="M266.4 142.6 L264.6 139.6 L261.4 138.3 M264.6 139.6 L264.4 136.7" stroke="#e2fff8" stroke-width="1.09" opacity="0.91" filter="url(#b05)"/>
<path d="M259.1 151.1 L257.1 153.2 L256.8 155.6 M257.1 153.2 L254.8 153.6" stroke="#e2fff8" stroke-width="1.20" opacity="0.87" filter="url(#b05)"/>
<path d="M265.3 107.5 L264.6 109.6" stroke="#e2fff8" stroke-width="0.90" opacity="1.00" filter="url(#b05)"/>
<path d="M246.3 148.2 L246.2 151.5" stroke="#e2fff8" stroke-width="1.23" opacity="0.80" filter="url(#b05)"/>
<path d="M232.5 113.2 L229.8 113.5 L226.7 114.3 M229.8 113.5 L229.3 116.2" stroke="#e2fff8" stroke-width="0.82" opacity="0.84" filter="url(#b05)"/>
<path d="M239.1 143.6 L241.1 143.9" stroke="#e2fff8" stroke-width="0.93" opacity="0.78" filter="url(#b05)"/>
<path d="M229.6 149.2 L227.0 150.3 L224.3 150.3" stroke="#e2fff8" stroke-width="1.18" opacity="0.94" filter="url(#b05)"/>
<path d="M277.4 141.4 L275.3 143.8" stroke="#e2fff8" stroke-width="1.18" opacity="0.96" filter="url(#b05)"/>
<path d="M253.9 136.2 L255.7 136.2 L258.8 137.1 L261.8 138.2 M255.7 136.2 L257.0 134.8" stroke="#e2fff8" stroke-width="1.16" opacity="0.80" filter="url(#b05)"/>
<path d="M238.7 128.6 L240.0 125.7" stroke="#e2fff8" stroke-width="0.88" opacity="0.90" filter="url(#b05)"/>
<path d="M246.9 143.5 L246.9 147.0 L249.0 149.6" stroke="#e2fff8" stroke-width="0.92" opacity="0.82" filter="url(#b05)"/>
</g>
</g>
<g filter="url(#b05)">
<path d="M216.9 39.6 Q216.9 37.2 219.4 37.0 L283.5 37.0 Q286.0 37.2 286.0 39.6 L286.0 62.6 A34.55 6.2 0 0 1 216.9 62.6 Z" fill="url(#cap)"/>
<path d="M216.9 39.8 Q216.9 37.2 219.4 37.0 L283.5 37.0 Q286.0 37.2 286.0 39.8 A34.55 1.6 0 0 1 216.9 39.8 Z" fill="#2d3a68" opacity="0.9"/>
</g>
<path d="M217.9 64 A33.55 6 0 0 0 285.0 64 L285.0 66 A33.55 6.4 0 0 1 217.9 66 Z" fill="#b9c6de" opacity="0.7" filter="url(#b1)"/>
<g filter="url(#b05)">
<ellipse cx="240.7" cy="115.4" rx="3.0" ry="2.2" fill="#3f7fc6" opacity="0.85"/>
<ellipse cx="259.8" cy="125.2" rx="3.7" ry="3.2" fill="#2d6cb8" opacity="0.95"/>
<ellipse cx="257.4" cy="122.6" rx="2.2" ry="1.8" fill="#3a78c0" opacity="0.8"/>
<ellipse cx="244.4" cy="138.6" rx="4.6" ry="3.6" fill="#3a78c2" opacity="0.9"/>
<ellipse cx="248.6" cy="136.4" rx="3.0" ry="2.6" fill="#4584c8" opacity="0.85"/>
<ellipse cx="241.6" cy="143.0" rx="3.4" ry="3.2" fill="#3270ba" opacity="0.9"/>
<ellipse cx="245.0" cy="146.6" rx="3.6" ry="3.0" fill="#2f6db8" opacity="0.9"/>
<ellipse cx="249.6" cy="142.4" rx="2.6" ry="2.4" fill="#4a88cc" opacity="0.8"/>
<ellipse cx="270.6" cy="150.6" rx="3.2" ry="1.7" fill="#4a86c8" opacity="0.75"/>
<ellipse cx="236.6" cy="139.6" rx="1.8" ry="1.4" fill="#5a96d2" opacity="0.7"/>
<ellipse cx="243" cy="150.2" rx="2.2" ry="1.6" fill="#3c7ac2" opacity="0.8"/>
</g>
<polyline points="314.20,43.20 262.10,124.80 314.20,154.20" fill="none" stroke="#111" stroke-width="1.25" stroke-linejoin="round" stroke-linecap="round" />
<text x="369.5" y="17.7" font-size="9.4" text-anchor="middle" font-weight="normal" fill="#111" textLength="80.2" lengthAdjust="spacing" >Elastomer materials</text>
<polyline points="325.10,37.30 333.10,32.60 341.60,37.40 356.00,32.10 364.10,37.00 372.20,32.10 381.50,37.00 393.70,32.20 402.00,36.70 413.40,31.90" fill="none" stroke="#2a2a2a" stroke-width="0.68" stroke-linejoin="round" stroke-linecap="round" />
<polyline points="364.90,34.80 371.60,30.60" fill="none" stroke="#2a2a2a" stroke-width="0.68" stroke-linejoin="round" stroke-linecap="round" />
<polyline points="341.60,37.40 341.60,47.60" fill="none" stroke="#2a2a2a" stroke-width="0.68" stroke-linejoin="round" stroke-linecap="round" />
<polyline points="341.60,47.60 349.83,52.35 349.83,61.85 341.60,66.60 333.37,61.85 333.37,52.35 341.60,47.60" fill="none" stroke="#2a2a2a" stroke-width="0.68" stroke-linejoin="round" stroke-linecap="round" />
<polyline points="335.54,53.00 341.07,49.80" fill="none" stroke="#2a2a2a" stroke-width="0.68" stroke-linejoin="round" stroke-linecap="round" />
<polyline points="348.18,53.91 348.18,60.29" fill="none" stroke="#2a2a2a" stroke-width="0.68" stroke-linejoin="round" stroke-linecap="round" />
<polyline points="341.07,64.40 335.54,61.20" fill="none" stroke="#2a2a2a" stroke-width="0.68" stroke-linejoin="round" stroke-linecap="round" />
<polyline points="402.00,36.70 402.00,46.50" fill="none" stroke="#2a2a2a" stroke-width="0.68" stroke-linejoin="round" stroke-linecap="round" />
<polyline points="402.00,46.50 410.23,51.25 410.23,60.75 402.00,65.50 393.77,60.75 393.77,51.25 402.00,46.50" fill="none" stroke="#2a2a2a" stroke-width="0.68" stroke-linejoin="round" stroke-linecap="round" />
<polyline points="395.94,51.90 401.47,48.70" fill="none" stroke="#2a2a2a" stroke-width="0.68" stroke-linejoin="round" stroke-linecap="round" />
<polyline points="408.58,52.81 408.58,59.19" fill="none" stroke="#2a2a2a" stroke-width="0.68" stroke-linejoin="round" stroke-linecap="round" />
<polyline points="401.47,63.30 395.94,60.10" fill="none" stroke="#2a2a2a" stroke-width="0.68" stroke-linejoin="round" stroke-linecap="round" />
<polyline points="329.80,24.60 328.50,24.60 328.50,41.10 329.80,41.10" fill="none" stroke="#2a2a2a" stroke-width="0.68" stroke-linejoin="round" stroke-linecap="round" />
<polyline points="343.80,24.60 345.10,24.60 345.10,41.10 343.80,41.10" fill="none" stroke="#2a2a2a" stroke-width="0.68" stroke-linejoin="round" stroke-linecap="round" />
<text x="346.3" y="41.5" font-size="3.7" text-anchor="start" font-weight="normal" fill="#555" font-style="italic">x</text>
<polyline points="354.50,24.20 353.20,24.20 353.20,41.60 354.50,41.60" fill="none" stroke="#2a2a2a" stroke-width="0.68" stroke-linejoin="round" stroke-linecap="round" />
<polyline points="381.20,24.20 382.50,24.20 382.50,41.60 381.20,41.60" fill="none" stroke="#2a2a2a" stroke-width="0.68" stroke-linejoin="round" stroke-linecap="round" />
<text x="383.8" y="42.6" font-size="3.7" text-anchor="start" font-weight="normal" fill="#555" font-style="italic">y</text>
<polyline points="389.90,24.60 388.60,24.60 388.60,41.40 389.90,41.40" fill="none" stroke="#2a2a2a" stroke-width="0.68" stroke-linejoin="round" stroke-linecap="round" />
<polyline points="407.50,22.40 408.80,22.40 408.80,40.60 407.50,40.60" fill="none" stroke="#2a2a2a" stroke-width="0.68" stroke-linejoin="round" stroke-linecap="round" />
<text x="410" y="41.2" font-size="3.7" text-anchor="start" font-weight="normal" fill="#555" font-style="italic">z</text>
<text x="369.5" y="60.3" font-size="9.3" text-anchor="middle" font-weight="normal" fill="#111" textLength="17.6" lengthAdjust="spacing" >SBS</text>
<polyline points="322.20,92.50 330.90,87.50 339.30,92.50 353.60,85.30 361.70,90.20 370.20,85.20 379.40,90.20 392.30,84.60 400.60,89.40 415.60,84.20" fill="none" stroke="#2a2a2a" stroke-width="0.68" stroke-linejoin="round" stroke-linecap="round" />
<polyline points="361.10,88.10 368.90,83.50" fill="none" stroke="#2a2a2a" stroke-width="0.68" stroke-linejoin="round" stroke-linecap="round" />
<polyline points="370.20,85.20 370.20,76.00" fill="none" stroke="#2a2a2a" stroke-width="0.68" stroke-linejoin="round" stroke-linecap="round" />
<polyline points="339.30,92.50 339.30,102.60" fill="none" stroke="#2a2a2a" stroke-width="0.68" stroke-linejoin="round" stroke-linecap="round" />
<polyline points="339.30,102.70 347.53,107.45 347.53,116.95 339.30,121.70 331.07,116.95 331.07,107.45 339.30,102.70" fill="none" stroke="#2a2a2a" stroke-width="0.68" stroke-linejoin="round" stroke-linecap="round" />
<polyline points="333.24,108.10 338.77,104.90" fill="none" stroke="#2a2a2a" stroke-width="0.68" stroke-linejoin="round" stroke-linecap="round" />
<polyline points="345.88,109.01 345.88,115.39" fill="none" stroke="#2a2a2a" stroke-width="0.68" stroke-linejoin="round" stroke-linecap="round" />
<polyline points="338.77,119.50 333.24,116.30" fill="none" stroke="#2a2a2a" stroke-width="0.68" stroke-linejoin="round" stroke-linecap="round" />
<polyline points="400.60,89.40 400.60,99.40" fill="none" stroke="#2a2a2a" stroke-width="0.68" stroke-linejoin="round" stroke-linecap="round" />
<polyline points="400.60,99.40 408.83,104.15 408.83,113.65 400.60,118.40 392.37,113.65 392.37,104.15 400.60,99.40" fill="none" stroke="#2a2a2a" stroke-width="0.68" stroke-linejoin="round" stroke-linecap="round" />
<polyline points="394.54,104.80 400.07,101.60" fill="none" stroke="#2a2a2a" stroke-width="0.68" stroke-linejoin="round" stroke-linecap="round" />
<polyline points="407.18,105.71 407.18,112.09" fill="none" stroke="#2a2a2a" stroke-width="0.68" stroke-linejoin="round" stroke-linecap="round" />
<polyline points="400.07,116.20 394.54,113.00" fill="none" stroke="#2a2a2a" stroke-width="0.68" stroke-linejoin="round" stroke-linecap="round" />
<polyline points="327.40,76.10 326.10,76.10 326.10,94.10 327.40,94.10" fill="none" stroke="#2a2a2a" stroke-width="0.68" stroke-linejoin="round" stroke-linecap="round" />
<polyline points="343.80,76.10 345.10,76.10 345.10,94.10 343.80,94.10" fill="none" stroke="#2a2a2a" stroke-width="0.68" stroke-linejoin="round" stroke-linecap="round" />
<text x="346.3" y="94.3" font-size="3.7" text-anchor="start" font-weight="normal" fill="#555" font-style="italic">x</text>
<polyline points="353.10,75.20 351.80,75.20 351.80,95.80 353.10,95.80" fill="none" stroke="#2a2a2a" stroke-width="0.68" stroke-linejoin="round" stroke-linecap="round" />
<polyline points="379.70,75.20 381.00,75.20 381.00,95.80 379.70,95.80" fill="none" stroke="#2a2a2a" stroke-width="0.68" stroke-linejoin="round" stroke-linecap="round" />
<text x="382.3" y="96.6" font-size="3.7" text-anchor="start" font-weight="normal" fill="#555" font-style="italic">y</text>
<polyline points="390.20,75.50 388.90,75.50 388.90,95.10 390.20,95.10" fill="none" stroke="#2a2a2a" stroke-width="0.68" stroke-linejoin="round" stroke-linecap="round" />
<polyline points="411.40,75.10 412.70,75.10 412.70,94.80 411.40,94.80" fill="none" stroke="#2a2a2a" stroke-width="0.68" stroke-linejoin="round" stroke-linecap="round" />
<text x="414" y="95.4" font-size="3.7" text-anchor="start" font-weight="normal" fill="#555" font-style="italic">z</text>
<text x="369.3" y="114.5" font-size="9.3" text-anchor="middle" font-weight="normal" fill="#111" textLength="13.8" lengthAdjust="spacing" >SIS</text>
<polyline points="319.00,140.90 327.00,145.40 335.60,140.90 352.70,145.50 362.10,141.10 373.80,144.90 382.70,139.90 397.70,145.40 406.90,140.90 419.40,145.70" fill="none" stroke="#2a2a2a" stroke-width="0.68" stroke-linejoin="round" stroke-linecap="round" />
<polyline points="382.70,139.90 382.70,129.90 374.30,125.20" fill="none" stroke="#2a2a2a" stroke-width="0.68" stroke-linejoin="round" stroke-linecap="round" />
<polyline points="335.60,140.90 335.60,151.30" fill="none" stroke="#2a2a2a" stroke-width="0.68" stroke-linejoin="round" stroke-linecap="round" />
<polyline points="335.60,151.10 343.57,155.70 343.57,164.90 335.60,169.50 327.63,164.90 327.63,155.70 335.60,151.10" fill="none" stroke="#2a2a2a" stroke-width="0.68" stroke-linejoin="round" stroke-linecap="round" />
<polyline points="329.74,156.33 335.09,153.23" fill="none" stroke="#2a2a2a" stroke-width="0.68" stroke-linejoin="round" stroke-linecap="round" />
<polyline points="341.97,157.21 341.97,163.39" fill="none" stroke="#2a2a2a" stroke-width="0.68" stroke-linejoin="round" stroke-linecap="round" />
<polyline points="335.09,167.37 329.74,164.27" fill="none" stroke="#2a2a2a" stroke-width="0.68" stroke-linejoin="round" stroke-linecap="round" />
<polyline points="406.90,140.90 406.90,151.30" fill="none" stroke="#2a2a2a" stroke-width="0.68" stroke-linejoin="round" stroke-linecap="round" />
<polyline points="406.90,151.10 414.87,155.70 414.87,164.90 406.90,169.50 398.93,164.90 398.93,155.70 406.90,151.10" fill="none" stroke="#2a2a2a" stroke-width="0.68" stroke-linejoin="round" stroke-linecap="round" />
<polyline points="401.04,156.33 406.39,153.23" fill="none" stroke="#2a2a2a" stroke-width="0.68" stroke-linejoin="round" stroke-linecap="round" />
<polyline points="413.27,157.21 413.27,163.39" fill="none" stroke="#2a2a2a" stroke-width="0.68" stroke-linejoin="round" stroke-linecap="round" />
<polyline points="406.39,167.37 401.04,164.27" fill="none" stroke="#2a2a2a" stroke-width="0.68" stroke-linejoin="round" stroke-linecap="round" />
<polyline points="324.00,131.20 322.70,131.20 322.70,149.20 324.00,149.20" fill="none" stroke="#2a2a2a" stroke-width="0.68" stroke-linejoin="round" stroke-linecap="round" />
<polyline points="339.70,131.20 341.00,131.20 341.00,147.60 339.70,147.60" fill="none" stroke="#2a2a2a" stroke-width="0.68" stroke-linejoin="round" stroke-linecap="round" />
<text x="342.3" y="148.4" font-size="3.7" text-anchor="start" font-weight="normal" fill="#555" font-style="italic">x</text>
<polyline points="350.00,131.20 348.70,131.20 348.70,149.20 350.00,149.20" fill="none" stroke="#2a2a2a" stroke-width="0.68" stroke-linejoin="round" stroke-linecap="round" />
<polyline points="361.90,130.40 363.20,130.40 363.20,148.90 361.90,148.90" fill="none" stroke="#2a2a2a" stroke-width="0.68" stroke-linejoin="round" stroke-linecap="round" />
<text x="364.4" y="149.3" font-size="3.7" text-anchor="start" font-weight="normal" fill="#555" font-style="italic">x</text>
<polyline points="370.10,130.40 368.80,130.40 368.80,149.20 370.10,149.20" fill="none" stroke="#2a2a2a" stroke-width="0.68" stroke-linejoin="round" stroke-linecap="round" />
<polyline points="386.80,130.40 388.10,130.40 388.10,149.20 386.80,149.20" fill="none" stroke="#2a2a2a" stroke-width="0.68" stroke-linejoin="round" stroke-linecap="round" />
<text x="389.3" y="150.2" font-size="3.7" text-anchor="start" font-weight="normal" fill="#555" font-style="italic">y</text>
<polyline points="395.00,130.00 393.70,130.00 393.70,149.70 395.00,149.70" fill="none" stroke="#2a2a2a" stroke-width="0.68" stroke-linejoin="round" stroke-linecap="round" />
<polyline points="415.20,129.60 416.50,129.60 416.50,148.90 415.20,148.90" fill="none" stroke="#2a2a2a" stroke-width="0.68" stroke-linejoin="round" stroke-linecap="round" />
<text x="417.7" y="149.6" font-size="3.7" text-anchor="start" font-weight="normal" fill="#555" font-style="italic">z</text>
<text x="369.2" y="164.2" font-size="9.3" text-anchor="middle" font-weight="normal" fill="#111" textLength="23.2" lengthAdjust="spacing" >SEBS</text>
<rect x="503.6" y="6.2" width="178.0" height="144.20000000000002" fill="none" stroke="#3a3a3a" stroke-width="1.05"/>
<line x1="507.50" y1="150.40" x2="507.50" y2="147.80" stroke="#222" stroke-width="0.8" />
<text x="507.5" y="161.7" font-size="9.0" text-anchor="middle" font-weight="normal" fill="#111" >0</text>
<line x1="549.10" y1="150.40" x2="549.10" y2="147.80" stroke="#222" stroke-width="0.8" />
<text x="549.1" y="161.7" font-size="9.0" text-anchor="middle" font-weight="normal" fill="#111" >500</text>
<line x1="590.70" y1="150.40" x2="590.70" y2="147.80" stroke="#222" stroke-width="0.8" />
<text x="590.7" y="161.7" font-size="9.0" text-anchor="middle" font-weight="normal" fill="#111" >1000</text>
<line x1="632.30" y1="150.40" x2="632.30" y2="147.80" stroke="#222" stroke-width="0.8" />
<text x="632.3" y="161.7" font-size="9.0" text-anchor="middle" font-weight="normal" fill="#111" >1500</text>
<line x1="673.90" y1="150.40" x2="673.90" y2="147.80" stroke="#222" stroke-width="0.8" />
<text x="673.9" y="161.7" font-size="9.0" text-anchor="middle" font-weight="normal" fill="#111" >2000</text>
<line x1="528.30" y1="150.40" x2="528.30" y2="148.90" stroke="#222" stroke-width="0.8" />
<line x1="569.90" y1="150.40" x2="569.90" y2="148.90" stroke="#222" stroke-width="0.8" />
<line x1="611.50" y1="150.40" x2="611.50" y2="148.90" stroke="#222" stroke-width="0.8" />
<line x1="653.10" y1="150.40" x2="653.10" y2="148.90" stroke="#222" stroke-width="0.8" />
<line x1="503.60" y1="146.60" x2="506.20" y2="146.60" stroke="#222" stroke-width="0.8" />
<text x="498.6" y="149.7" font-size="9.0" text-anchor="end" font-weight="normal" fill="#111" >0</text>
<line x1="503.60" y1="106.50" x2="506.20" y2="106.50" stroke="#222" stroke-width="0.8" />
<text x="498.6" y="109.6" font-size="9.0" text-anchor="end" font-weight="normal" fill="#111" >5</text>
<line x1="503.60" y1="66.40" x2="506.20" y2="66.40" stroke="#222" stroke-width="0.8" />
<text x="498.6" y="69.5" font-size="9.0" text-anchor="end" font-weight="normal" fill="#111" >10</text>
<line x1="503.60" y1="26.30" x2="506.20" y2="26.30" stroke="#222" stroke-width="0.8" />
<text x="498.6" y="29.4" font-size="9.0" text-anchor="end" font-weight="normal" fill="#111" >15</text>
<line x1="503.60" y1="126.55" x2="505.10" y2="126.55" stroke="#222" stroke-width="0.8" />
<line x1="503.60" y1="86.45" x2="505.10" y2="86.45" stroke="#222" stroke-width="0.8" />
<line x1="503.60" y1="46.35" x2="505.10" y2="46.35" stroke="#222" stroke-width="0.8" />
<text x="592.6" y="175.7" font-size="9.3" text-anchor="middle" font-weight="normal" fill="#111" textLength="70.4" lengthAdjust="spacing" >Tensile strain (%)</text>
<text x="479.8" y="78.5" font-size="9.3" text-anchor="middle" font-weight="normal" fill="#111" textLength="82.6" lengthAdjust="spacing" transform="rotate(-90 479.8 78.5)" >Tensile stress (MPa)</text>
<rect x="507.7" y="128.6" width="14.1" height="18.0" fill="none" stroke="#f08a84" stroke-width="0.6" stroke-dasharray="1.6 1"/>
<polyline points="507.50,146.60 508.33,145.64 509.58,144.03 511.66,142.19 514.16,140.50 517.48,138.98 519.98,138.18 524.14,136.98 532.46,135.21 549.10,131.92 569.90,128.56 590.70,125.11 603.18,121.74 613.16,117.57 627.56,109.71 636.46,103.29 641.87,98.48 652.18,87.65 660.42,76.83 665.58,67.60 672.82,50.36 677.23,36.73 681.39,19.48" fill="none" stroke="#2f9be6" stroke-width="0.95" stroke-linejoin="round" stroke-linecap="round" />
<polyline points="507.50,146.60 507.83,141.79 508.33,137.78 508.83,135.93 509.33,135.53 510.83,135.85 514.16,136.17 519.98,136.17 528.30,134.97 540.78,132.32 557.42,128.96 574.06,125.75 584.88,123.50 589.45,123.18 589.54,136.17" fill="none" stroke="#e9524a" stroke-width="0.95" stroke-linejoin="round" stroke-linecap="round" />
<polyline points="507.50,146.60 507.83,140.18 508.33,133.77 508.66,131.20 509.33,132.32 511.24,133.13 514.16,132.81 519.98,131.20 522.48,129.76 526.64,125.75 532.46,119.33 539.12,111.31 543.28,105.70 547.44,100.89 549.93,93.67 552.84,82.44 555.34,69.61 556.42,62.39 556.75,86.45 556.92,107.30" fill="none" stroke="#ecb184" stroke-width="0.95" stroke-linejoin="round" stroke-linecap="round" />
<line x1="636.00" y1="122.10" x2="653.40" y2="122.10" stroke="#e9524a" stroke-width="0.95" />
<text x="657.1" y="125.1" font-size="8.2" text-anchor="start" font-weight="normal" fill="#111" textLength="14.9" lengthAdjust="spacing" >SBS</text>
<line x1="636.00" y1="132.00" x2="653.40" y2="132.00" stroke="#2f9be6" stroke-width="0.95" />
<text x="657.1" y="135.0" font-size="8.2" text-anchor="start" font-weight="normal" fill="#111" textLength="12.0" lengthAdjust="spacing" >SIS</text>
<line x1="636.00" y1="141.90" x2="653.40" y2="141.90" stroke="#ecb184" stroke-width="0.95" />
<text x="657.1" y="144.9" font-size="8.2" text-anchor="start" font-weight="normal" fill="#111" textLength="20.0" lengthAdjust="spacing" >SEBS</text>
<rect x="575.3" y="10.6" width="77.0" height="62.300000000000004" fill="#fff" stroke="#3a3a3a" stroke-width="0.9"/>
<line x1="575.30" y1="72.90" x2="575.30" y2="71.30" stroke="#222" stroke-width="0.6" />
<text x="575.3" y="79.9" font-size="5.7" text-anchor="middle" font-weight="normal" fill="#111" >0</text>
<line x1="600.97" y1="72.90" x2="600.97" y2="71.30" stroke="#222" stroke-width="0.6" />
<text x="600.9666666666666" y="79.9" font-size="5.7" text-anchor="middle" font-weight="normal" fill="#111" >50</text>
<line x1="626.63" y1="72.90" x2="626.63" y2="71.30" stroke="#222" stroke-width="0.6" />
<text x="626.6333333333333" y="79.9" font-size="5.7" text-anchor="middle" font-weight="normal" fill="#111" >100</text>
<line x1="652.30" y1="72.90" x2="652.30" y2="71.30" stroke="#222" stroke-width="0.6" />
<text x="652.3" y="79.9" font-size="5.7" text-anchor="middle" font-weight="normal" fill="#111" >150</text>
<line x1="588.13" y1="72.90" x2="588.13" y2="71.90" stroke="#222" stroke-width="0.6" />
<line x1="613.80" y1="72.90" x2="613.80" y2="71.90" stroke="#222" stroke-width="0.6" />
<line x1="639.47" y1="72.90" x2="639.47" y2="71.90" stroke="#222" stroke-width="0.6" />
<line x1="575.30" y1="72.90" x2="576.90" y2="72.90" stroke="#222" stroke-width="0.6" />
<text x="573.0" y="74.80000000000001" font-size="5.7" text-anchor="end" font-weight="normal" fill="#111" >0.0</text>
<line x1="575.30" y1="58.80" x2="576.90" y2="58.80" stroke="#222" stroke-width="0.6" />
<text x="573.0" y="60.7" font-size="5.7" text-anchor="end" font-weight="normal" fill="#111" >0.5</text>
<line x1="575.30" y1="44.70" x2="576.90" y2="44.70" stroke="#222" stroke-width="0.6" />
<text x="573.0" y="46.6" font-size="5.7" text-anchor="end" font-weight="normal" fill="#111" >1.0</text>
<line x1="575.30" y1="30.60" x2="576.90" y2="30.60" stroke="#222" stroke-width="0.6" />
<text x="573.0" y="32.50000000000001" font-size="5.7" text-anchor="end" font-weight="normal" fill="#111" >1.5</text>
<line x1="575.30" y1="16.50" x2="576.90" y2="16.50" stroke="#222" stroke-width="0.6" />
<text x="573.0" y="18.400000000000006" font-size="5.7" text-anchor="end" font-weight="normal" fill="#111" >2.0</text>
<text x="613.8" y="87.3" font-size="5.4" text-anchor="middle" font-weight="normal" fill="#111" textLength="41" lengthAdjust="spacing" >Tensile strain (%)</text>
<text x="561.8" y="42" font-size="5.4" text-anchor="middle" font-weight="normal" fill="#111" textLength="48" lengthAdjust="spacing" transform="rotate(-90 561.8 42)" >Tensile stress (MPa)</text>
<clipPath id="ic"><rect x="575.3" y="10.6" width="77.0" height="62.300000000000004"/></clipPath><g clip-path="url(#ic)">
<polyline points="575.30,72.90 577.87,70.64 580.43,68.11 585.57,64.16 590.70,60.49 595.83,57.67 600.97,55.13 606.10,53.16 613.80,50.90 621.50,48.93 629.20,47.24 636.90,45.55 644.60,44.14 652.30,42.73" fill="none" stroke="#2f9be6" stroke-width="0.95" stroke-linejoin="round" stroke-linecap="round" />
<polyline points="575.30,72.90 576.84,60.21 578.38,48.93 580.43,40.47 582.49,36.24 584.54,34.27 587.62,33.70 593.27,34.55 600.97,35.39 611.23,36.24 626.63,36.52 652.30,36.52" fill="none" stroke="#e9524a" stroke-width="0.95" stroke-linejoin="round" stroke-linecap="round" />
<polyline points="575.30,72.90 576.84,58.80 578.38,44.70 579.92,33.42 581.46,24.96 582.74,19.32 583.51,18.76 585.05,21.58 588.13,23.55 593.27,24.96 600.97,25.81 611.23,24.96 626.63,22.70 639.47,21.01 652.30,18.19" fill="none" stroke="#ecb184" stroke-width="0.95" stroke-linejoin="round" stroke-linecap="round" />
</g>
<rect x="30.5" y="200.3" width="179.1" height="144.89999999999998" fill="none" stroke="#3a3a3a" stroke-width="1.05"/>
<line x1="30.70" y1="345.20" x2="30.70" y2="342.60" stroke="#222" stroke-width="0.8" />
<text x="30.7" y="357.3" font-size="9.2" text-anchor="middle" font-weight="normal" fill="#111" >0</text>
<line x1="71.45" y1="345.20" x2="71.45" y2="342.60" stroke="#222" stroke-width="0.8" />
<text x="71.45" y="357.3" font-size="9.2" text-anchor="middle" font-weight="normal" fill="#111" >5</text>
<line x1="112.20" y1="345.20" x2="112.20" y2="342.60" stroke="#222" stroke-width="0.8" />
<text x="112.2" y="357.3" font-size="9.2" text-anchor="middle" font-weight="normal" fill="#111" >10</text>
<line x1="152.95" y1="345.20" x2="152.95" y2="342.60" stroke="#222" stroke-width="0.8" />
<text x="152.95" y="357.3" font-size="9.2" text-anchor="middle" font-weight="normal" fill="#111" >15</text>
<line x1="193.70" y1="345.20" x2="193.70" y2="342.60" stroke="#222" stroke-width="0.8" />
<text x="193.7" y="357.3" font-size="9.2" text-anchor="middle" font-weight="normal" fill="#111" >20</text>
<line x1="51.08" y1="345.20" x2="51.08" y2="343.70" stroke="#222" stroke-width="0.8" />
<line x1="91.83" y1="345.20" x2="91.83" y2="343.70" stroke="#222" stroke-width="0.8" />
<line x1="132.57" y1="345.20" x2="132.57" y2="343.70" stroke="#222" stroke-width="0.8" />
<line x1="173.32" y1="345.20" x2="173.32" y2="343.70" stroke="#222" stroke-width="0.8" />
<line x1="30.50" y1="345.10" x2="33.10" y2="345.10" stroke="#222" stroke-width="0.8" />
<text x="25.9" y="348.3" font-size="9.3" text-anchor="end" font-weight="normal" fill="#111" >0</text>
<line x1="30.50" y1="313.00" x2="33.10" y2="313.00" stroke="#222" stroke-width="0.8" />
<text x="25.9" y="316.2" font-size="9.3" text-anchor="end" font-weight="normal" fill="#111" >20</text>
<line x1="30.50" y1="280.90" x2="33.10" y2="280.90" stroke="#222" stroke-width="0.8" />
<text x="25.9" y="284.1" font-size="9.3" text-anchor="end" font-weight="normal" fill="#111" >40</text>
<line x1="30.50" y1="248.80" x2="33.10" y2="248.80" stroke="#222" stroke-width="0.8" />
<text x="25.9" y="252.0" font-size="9.3" text-anchor="end" font-weight="normal" fill="#111" >60</text>
<line x1="30.50" y1="216.70" x2="33.10" y2="216.70" stroke="#222" stroke-width="0.8" />
<text x="25.9" y="219.9" font-size="9.3" text-anchor="end" font-weight="normal" fill="#111" >80</text>
<line x1="30.50" y1="329.05" x2="32.00" y2="329.05" stroke="#222" stroke-width="0.8" />
<line x1="30.50" y1="296.95" x2="32.00" y2="296.95" stroke="#222" stroke-width="0.8" />
<line x1="30.50" y1="264.85" x2="32.00" y2="264.85" stroke="#222" stroke-width="0.8" />
<line x1="30.50" y1="232.75" x2="32.00" y2="232.75" stroke="#222" stroke-width="0.8" />
<text x="120.5" y="370.6" font-size="9.3" text-anchor="middle" font-weight="normal" fill="#111" textLength="68.2" lengthAdjust="spacing" >Tensile strain(%)</text>
<text x="7.4" y="272.6" font-size="9.3" text-anchor="middle" font-weight="normal" fill="#111" textLength="49.2" lengthAdjust="spacing" transform="rotate(-90 7.4 272.6)" >Stress(MPa)</text>
<text x="203" y="210.9" font-size="8.05" text-anchor="end" font-weight="normal" fill="#111" textLength="45" lengthAdjust="spacing" >FOW method</text>
<polyline points="30.70,345.10 31.52,344.74 32.33,344.05 33.14,343.17 33.96,341.92 34.77,340.12 35.59,337.89 36.41,335.38 37.22,332.71 38.03,330.02 38.85,327.45 39.66,324.88 40.48,322.17 41.30,319.35 42.11,316.46 42.93,313.52 43.74,310.57 44.56,307.65 45.37,304.78 46.19,302.01 47.00,299.36 47.82,296.77 48.63,294.19 49.45,291.67 50.26,289.25 51.08,286.81 51.89,284.62 52.71,283.00 53.52,281.43 54.34,279.63 55.15,278.00 55.97,276.46 56.78,275.04 57.60,273.48 58.41,272.00 59.23,270.65 60.04,269.64 60.86,268.69 61.67,267.90 62.49,267.06 63.30,266.21 64.12,265.52 64.93,265.09 65.75,264.74 66.56,264.51 67.38,264.37 68.19,264.21 69.00,263.87 69.82,263.62 70.63,263.36 71.45,262.91 72.26,262.67 73.08,262.43 73.89,262.33 74.71,262.28 75.52,262.07 76.34,261.94 77.15,261.65 77.97,261.20 78.78,260.96 79.60,260.92 80.41,260.56 81.23,260.28 82.04,260.05 82.86,259.77 83.67,259.57 84.49,259.36 85.30,259.33 86.12,259.00 86.93,258.73 87.75,258.79 88.56,258.54 89.38,258.33 90.19,258.23 91.01,258.07 91.82,257.93 92.64,257.60 93.45,257.48 94.27,257.22 95.08,257.17 95.90,256.87 96.71,256.60 97.53,256.53 98.34,256.39 99.16,256.10 99.97,255.92 100.79,255.83 101.60,255.82 102.42,255.72 103.23,255.46 104.05,255.43 104.86,255.07 105.68,255.01 106.49,254.67 107.31,254.62 108.12,254.28 108.94,254.10 109.75,254.00 110.57,253.87 111.38,253.69 112.20,253.54 113.01,253.49 113.83,253.45 114.64,253.27 115.46,252.93 116.27,252.78 117.09,252.84 117.90,252.56 118.72,252.36 119.53,252.11 120.35,252.18 121.16,251.97 121.98,252.05 122.79,251.84 123.61,251.79 124.42,251.74 125.24,251.41 126.05,251.44 126.87,251.25 127.68,250.94 128.50,250.92 129.31,250.86 130.13,250.52 130.94,250.40 131.76,250.15 132.57,250.18 133.39,250.02 134.20,249.93 135.02,249.61 135.83,249.55 136.65,249.12 137.46,249.12 138.28,248.78 139.09,248.76 139.91,248.60 140.72,248.21 141.54,248.13 142.35,248.01 143.17,247.67 143.98,247.49 144.80,247.45 145.61,246.99 146.43,246.94 147.24,246.89 148.06,246.68 148.87,246.37 149.69,246.05 150.50,246.01 151.32,245.83 152.13,245.77 152.95,245.51 153.76,245.15 154.58,244.85 155.39,244.52 156.21,244.28 157.02,244.02 157.84,243.83 158.65,243.74 159.47,243.71 160.28,243.46 161.10,243.36 161.91,243.31 162.73,243.08 163.54,242.69 164.36,242.64 165.17,242.37 165.99,242.19 166.80,241.95 167.62,241.87 168.43,241.43 169.25,241.34 170.06,241.07 170.88,240.90 171.69,240.87 172.51,240.59 173.32,240.49 174.14,240.40 174.95,240.29 175.77,240.11 176.58,239.96 177.40,239.59 178.21,239.32 179.03,238.87 179.84,238.51 180.66,238.18 181.47,238.20 182.29,238.11 183.10,238.13 183.92,238.04 184.73,238.06 185.55,238.12 186.37,238.34 187.18,238.79 188.00,239.17 188.81,239.61 189.63,240.45 190.44,241.39 191.26,242.31 192.07,243.51 192.89,244.74 193.70,246.69 194.52,249.23 195.33,252.34 196.15,256.68 196.96,263.62 197.78,276.16 198.59,305.13 199.41,345.10 200.22,345.10 201.04,345.10 201.85,345.10 202.67,345.10 203.48,345.10" fill="none" stroke="#e9524a" stroke-width="0.85" stroke-linejoin="round" stroke-linecap="round" />
<polyline points="30.70,345.10 31.52,344.71 32.33,343.97 33.14,343.01 33.96,341.65 34.77,339.67 35.59,337.23 36.41,334.48 37.22,331.56 38.03,328.63 38.85,325.84 39.66,323.10 40.48,320.23 41.30,317.26 42.11,314.23 42.93,311.16 43.74,308.07 44.56,305.00 45.37,301.97 46.19,299.01 47.00,296.15 47.82,293.30 48.63,290.43 49.45,287.59 50.26,284.87 51.08,282.54 51.89,280.20 52.71,278.25 53.52,276.29 54.34,274.49 55.15,273.23 55.97,272.01 56.78,270.16 57.60,268.89 58.41,267.67 59.23,265.99 60.04,264.97 60.86,263.86 61.67,263.19 62.49,262.44 63.30,262.11 64.12,261.42 64.93,260.68 65.75,260.34 66.56,259.89 67.38,259.56 68.19,259.71 69.00,259.26 69.82,259.02 70.63,259.00 71.45,259.13 72.26,258.58 73.08,258.43 73.89,258.12 74.71,257.74 75.52,257.55 76.34,257.24 77.15,257.35 77.97,257.09 78.78,257.13 79.60,256.76 80.41,256.49 81.23,256.81 82.04,256.95 82.86,256.94 83.67,256.36 84.49,256.28 85.30,256.03 86.12,256.04 86.93,255.85 87.75,255.76 88.56,255.67 89.38,255.39 90.19,255.14 91.01,254.70 91.82,254.49 92.64,254.13 93.45,253.88 94.27,253.56 95.08,253.51 95.90,253.80 96.71,253.46 97.53,253.10 98.34,252.85 99.16,252.86 99.97,252.72 100.79,252.93 101.60,252.60 102.42,252.50 103.23,252.59 104.05,252.77 104.86,252.29 105.68,251.81 106.49,252.07 107.31,251.71 108.12,251.69 108.94,251.81 109.75,251.76 110.57,251.34 111.38,250.93 112.20,251.19 113.01,250.93 113.83,251.11 114.64,250.72 115.46,250.68 116.27,250.23 117.09,249.80 117.90,249.80 118.72,249.42 119.53,249.61 120.35,249.88 121.16,249.66 121.98,249.88 122.79,249.87 123.61,249.68 124.42,249.38 125.24,249.46 126.05,249.58 126.87,249.06 127.68,249.09 128.50,248.66 129.31,248.41 130.13,250.22 130.94,345.10 131.76,345.10 132.57,345.10 133.39,345.10 134.20,345.10 135.02,345.10 135.02,345.10" fill="none" stroke="#ecb184" stroke-width="0.85" stroke-linejoin="round" stroke-linecap="round" />
<polyline points="30.70,345.10 31.52,344.62 32.33,343.77 33.14,342.69 33.96,341.18 34.77,339.04 35.59,336.42 36.41,333.48 37.22,330.36 38.03,327.23 38.85,324.24 39.66,321.28 40.48,318.19 41.30,315.00 42.11,311.73 42.93,308.41 43.74,305.08 44.56,301.75 45.37,298.47 46.19,295.25 47.00,292.13 47.82,289.07 48.63,286.01 49.45,282.99 50.26,280.04 51.08,277.38 51.89,274.89 52.71,272.20 53.52,269.76 54.34,267.54 55.15,265.38 55.97,263.19 56.78,261.39 57.60,259.83 58.41,258.81 59.23,257.59 60.04,256.62 60.86,255.73 61.67,254.92 62.49,254.09 63.30,252.90 64.12,252.04 64.93,251.35 65.75,250.77 66.56,250.70 67.38,250.47 68.19,249.98 69.00,249.48 69.82,248.95 70.63,248.51 71.45,248.71 72.26,248.46 73.08,248.19 73.89,248.08 74.71,248.20 75.52,248.04 76.34,248.16 77.15,247.61 77.97,247.22 78.78,247.12 79.60,247.17 80.41,246.71 81.23,246.57 82.04,246.19 82.86,245.89 83.67,245.86 84.49,245.84 85.30,245.64 86.12,245.55 86.93,245.62 87.75,245.50 88.56,245.00 89.38,245.13 90.19,245.15 91.01,244.69 91.82,244.56 92.64,244.22 93.45,243.97 94.27,243.82 95.08,243.20 95.90,243.27 96.71,243.10 97.53,243.08 98.34,242.70 99.16,242.63 99.97,242.47 100.79,242.02 101.60,241.95 102.42,241.67 103.23,241.17 104.05,241.34 104.86,241.42 105.68,241.30 106.49,240.77 107.31,240.45 108.12,240.43 108.94,240.28 109.75,240.22 110.57,239.92 111.38,239.93 112.20,239.41 113.01,238.83 113.83,238.30 114.64,238.00 115.46,237.56 116.27,237.83 117.09,237.76 117.90,237.16 118.72,236.81 119.53,236.76 120.35,236.30 121.16,236.16 121.98,235.88 122.79,236.00 123.61,236.11 124.42,235.96 125.24,236.03 126.05,235.87 126.87,235.30 127.68,235.30 128.50,235.49 129.31,235.55 130.13,235.46 130.94,234.92 131.76,234.79 132.57,234.71 133.39,234.74 134.20,234.08 135.02,233.97 135.83,233.98 136.65,234.04 137.46,234.03 138.28,233.88 139.09,233.35 139.91,233.29 140.72,233.26 141.54,232.86 142.35,232.69 143.17,231.97 143.98,232.02 144.80,231.71 145.61,231.25 146.43,231.13 147.24,230.57 148.06,230.48 148.87,230.52 149.69,230.38 150.50,230.48 151.32,230.23 152.13,230.12 152.95,229.55 153.76,229.14 154.58,229.04 155.39,229.26 156.21,229.20 157.02,229.13 157.84,229.06 158.65,228.94 159.47,228.36 160.28,228.43 161.10,228.48 161.91,227.86 162.73,227.62 163.54,227.11 164.36,227.11 165.17,226.71 165.99,226.56 166.80,226.31 167.62,226.13 168.43,226.13 169.25,226.37 170.06,226.41 170.88,225.90 171.69,225.47 172.51,225.10 173.32,225.21 174.14,225.02 174.95,224.77 175.77,224.71 176.58,224.55 177.40,224.78 178.21,225.51 179.03,226.74 179.84,230.06 180.66,235.59 181.47,248.22 182.29,312.89 183.10,345.10 183.92,345.10 184.73,345.10 185.55,345.10 186.37,345.10 187.18,345.10 188.00,345.10" fill="none" stroke="#2f9be6" stroke-width="0.85" stroke-linejoin="round" stroke-linecap="round" />
<polyline points="30.70,345.10 31.52,344.29 32.33,343.07 33.14,341.57 33.96,339.61 34.77,337.05 35.59,334.01 36.41,330.61 37.22,326.97 38.03,323.20 38.85,319.42 39.66,315.37 40.48,310.80 41.30,305.90 42.11,300.84 42.93,295.79 43.74,290.94 44.56,286.45 45.37,282.50 46.19,279.06 47.00,275.91 47.82,272.95 48.63,270.11 49.45,267.30 50.26,264.43 51.08,261.36 51.89,258.14 52.71,254.88 53.52,251.63 54.34,248.66 55.15,245.84 55.97,243.74 56.78,241.46 57.60,239.09 58.41,237.14 59.23,235.39 60.04,234.36 60.86,233.23 61.67,232.33 62.49,231.42 63.30,230.66 64.12,230.28 64.93,229.81 65.75,229.36 66.56,228.66 67.38,228.16 68.19,228.01 69.00,227.56 69.82,227.48 70.63,227.15 71.45,227.09 72.26,227.05 73.08,226.57 73.89,226.48 74.71,226.36 75.52,225.89 76.34,225.56 77.15,225.55 77.97,225.18 78.78,225.07 79.60,224.88 80.41,224.90 81.23,224.52 82.04,224.30 82.86,223.97 83.67,223.71 84.49,223.73 85.30,223.65 86.12,223.62 86.93,223.55 87.75,223.47 88.56,223.25 89.38,222.92 90.19,222.89 91.01,222.50 91.82,222.29 92.64,222.05 93.45,221.46 94.27,220.98 95.08,220.61 95.90,220.31 96.71,220.06 97.53,220.17 98.34,219.82 99.16,220.00 99.97,219.79 100.79,219.58 101.60,219.79 102.42,219.56 103.23,219.55 104.05,219.41 104.86,219.48 105.68,219.41 106.49,219.23 107.31,218.69 108.12,218.65 108.94,218.35 109.75,218.02 110.57,217.76 111.38,217.82 112.20,217.85 113.01,217.80 113.83,217.67 114.64,218.18 115.46,218.80 116.27,219.73 117.09,221.52 117.90,225.09 118.72,229.35 119.53,237.08 120.35,248.90 121.16,267.77 121.98,298.82 122.79,345.10 122.80,345.10" fill="none" stroke="#5ab455" stroke-width="0.85" stroke-linejoin="round" stroke-linecap="round" />
<line x1="55.20" y1="303.40" x2="72.60" y2="303.40" stroke="#5ab455" stroke-width="0.9" />
<text x="77.4" y="306.2" font-size="7.8" text-anchor="start" font-weight="normal" fill="#111" textLength="15.3" lengthAdjust="spacing" >GPF</text>
<line x1="55.20" y1="313.60" x2="72.60" y2="313.60" stroke="#e9524a" stroke-width="0.9" />
<text x="77.4" y="316.40000000000003" font-size="7.8" text-anchor="start" font-weight="normal" fill="#111" textLength="30.4" lengthAdjust="spacing" >10%SBS</text>
<line x1="55.20" y1="323.30" x2="72.60" y2="323.30" stroke="#2f9be6" stroke-width="0.9" />
<text x="77.4" y="326.1" font-size="7.8" text-anchor="start" font-weight="normal" fill="#111" textLength="27.4" lengthAdjust="spacing" >10%SIS</text>
<line x1="55.20" y1="333.00" x2="72.60" y2="333.00" stroke="#ecb184" stroke-width="0.9" />
<text x="77.4" y="335.8" font-size="7.8" text-anchor="start" font-weight="normal" fill="#111" textLength="35.4" lengthAdjust="spacing" >10%SEBS</text>
<rect x="263.70" y="236.20" width="11.30" height="109.00" fill="url(#gG)"/>
<rect x="275.00" y="286.40" width="11.50" height="58.80" fill="url(#gG)"/>
<clipPath id="pc1"><rect x="275.00" y="286.40" width="11.50" height="58.80"/></clipPath>
<g clip-path="url(#pc1)">
<rect x="275.00" y="286.40" width="11.50" height="58.80" fill="#fff" opacity="0.22"/>
<path d="M272.90 277.93 L274.70 279.82 L272.90 281.72 L271.10 279.82 Z M277.90 277.93 L279.70 279.82 L277.90 281.72 L276.10 279.82 Z M282.90 277.93 L284.70 279.82 L282.90 281.72 L281.10 279.82 Z M287.90 277.93 L289.70 279.82 L287.90 281.72 L286.10 279.82 Z M292.90 277.93 L294.70 279.82 L292.90 281.72 L291.10 279.82 Z M272.90 283.08 L274.70 284.98 L272.90 286.88 L271.10 284.98 Z M277.90 283.08 L279.70 284.98 L277.90 286.88 L276.10 284.98 Z M282.90 283.08 L284.70 284.98 L282.90 286.88 L281.10 284.98 Z M287.90 283.08 L289.70 284.98 L287.90 286.88 L286.10 284.98 Z M292.90 283.08 L294.70 284.98 L292.90 286.88 L291.10 284.98 Z M272.90 288.23 L274.70 290.12 L272.90 292.02 L271.10 290.12 Z M277.90 288.23 L279.70 290.12 L277.90 292.02 L276.10 290.12 Z M282.90 288.23 L284.70 290.12 L282.90 292.02 L281.10 290.12 Z M287.90 288.23 L289.70 290.12 L287.90 292.02 L286.10 290.12 Z M292.90 288.23 L294.70 290.12 L292.90 292.02 L291.10 290.12 Z M272.90 293.38 L274.70 295.28 L272.90 297.18 L271.10 295.28 Z M277.90 293.38 L279.70 295.28 L277.90 297.18 L276.10 295.28 Z M282.90 293.38 L284.70 295.28 L282.90 297.18 L281.10 295.28 Z M287.90 293.38 L289.70 295.28 L287.90 297.18 L286.10 295.28 Z M292.90 293.38 L294.70 295.28 L292.90 297.18 L291.10 295.28 Z M272.90 298.53 L274.70 300.43 L272.90 302.32 L271.10 300.43 Z M277.90 298.53 L279.70 300.43 L277.90 302.32 L276.10 300.43 Z M282.90 298.53 L284.70 300.43 L282.90 302.32 L281.10 300.43 Z M287.90 298.53 L289.70 300.43 L287.90 302.32 L286.10 300.43 Z M292.90 298.53 L294.70 300.43 L292.90 302.32 L291.10 300.43 Z M272.90 303.68 L274.70 305.57 L272.90 307.47 L271.10 305.57 Z M277.90 303.68 L279.70 305.57 L277.90 307.47 L276.10 305.57 Z M282.90 303.68 L284.70 305.57 L282.90 307.47 L281.10 305.57 Z M287.90 303.68 L289.70 305.57 L287.90 307.47 L286.10 305.57 Z M292.90 303.68 L294.70 305.57 L292.90 307.47 L291.10 305.57 Z M272.90 308.83 L274.70 310.73 L272.90 312.62 L271.10 310.73 Z M277.90 308.83 L279.70 310.73 L277.90 312.62 L276.10 310.73 Z M282.90 308.83 L284.70 310.73 L282.90 312.62 L281.10 310.73 Z M287.90 308.83 L289.70 310.73 L287.90 312.62 L286.10 310.73 Z M292.90 308.83 L294.70 310.73 L292.90 312.62 L291.10 310.73 Z M272.90 313.98 L274.70 315.88 L272.90 317.77 L271.10 315.88 Z M277.90 313.98 L279.70 315.88 L277.90 317.77 L276.10 315.88 Z M282.90 313.98 L284.70 315.88 L282.90 317.77 L281.10 315.88 Z M287.90 313.98 L289.70 315.88 L287.90 317.77 L286.10 315.88 Z M292.90 313.98 L294.70 315.88 L292.90 317.77 L291.10 315.88 Z M272.90 319.13 L274.70 321.03 L272.90 322.93 L271.10 321.03 Z M277.90 319.13 L279.70 321.03 L277.90 322.93 L276.10 321.03 Z M282.90 319.13 L284.70 321.03 L282.90 322.93 L281.10 321.03 Z M287.90 319.13 L289.70 321.03 L287.90 322.93 L286.10 321.03 Z M292.90 319.13 L294.70 321.03 L292.90 322.93 L291.10 321.03 Z M272.90 324.28 L274.70 326.18 L272.90 328.07 L271.10 326.18 Z M277.90 324.28 L279.70 326.18 L277.90 328.07 L276.10 326.18 Z M282.90 324.28 L284.70 326.18 L282.90 328.07 L281.10 326.18 Z M287.90 324.28 L289.70 326.18 L287.90 328.07 L286.10 326.18 Z M292.90 324.28 L294.70 326.18 L292.90 328.07 L291.10 326.18 Z M272.90 329.43 L274.70 331.32 L272.90 333.22 L271.10 331.32 Z M277.90 329.43 L279.70 331.32 L277.90 333.22 L276.10 331.32 Z M282.90 329.43 L284.70 331.32 L282.90 333.22 L281.10 331.32 Z M287.90 329.43 L289.70 331.32 L287.90 333.22 L286.10 331.32 Z M292.90 329.43 L294.70 331.32 L292.90 333.22 L291.10 331.32 Z M272.90 334.58 L274.70 336.48 L272.90 338.38 L271.10 336.48 Z M277.90 334.58 L279.70 336.48 L277.90 338.38 L276.10 336.48 Z M282.90 334.58 L284.70 336.48 L282.90 338.38 L281.10 336.48 Z M287.90 334.58 L289.70 336.48 L287.90 338.38 L286.10 336.48 Z M292.90 334.58 L294.70 336.48 L292.90 338.38 L291.10 336.48 Z M272.90 339.73 L274.70 341.62 L272.90 343.52 L271.10 341.62 Z M277.90 339.73 L279.70 341.62 L277.90 343.52 L276.10 341.62 Z M282.90 339.73 L284.70 341.62 L282.90 343.52 L281.10 341.62 Z M287.90 339.73 L289.70 341.62 L287.90 343.52 L286.10 341.62 Z M292.90 339.73 L294.70 341.62 L292.90 343.52 L291.10 341.62 Z M272.90 344.88 L274.70 346.78 L272.90 348.68 L271.10 346.78 Z M277.90 344.88 L279.70 346.78 L277.90 348.68 L276.10 346.78 Z M282.90 344.88 L284.70 346.78 L282.90 348.68 L281.10 346.78 Z M287.90 344.88 L289.70 346.78 L287.90 348.68 L286.10 346.78 Z M292.90 344.88 L294.70 346.78 L292.90 348.68 L291.10 346.78 Z M272.90 350.03 L274.70 351.93 L272.90 353.82 L271.10 351.93 Z M277.90 350.03 L279.70 351.93 L277.90 353.82 L276.10 351.93 Z M282.90 350.03 L284.70 351.93 L282.90 353.82 L281.10 351.93 Z M287.90 350.03 L289.70 351.93 L287.90 353.82 L286.10 351.93 Z M292.90 350.03 L294.70 351.93 L292.90 353.82 L291.10 351.93 Z M272.90 355.18 L274.70 357.07 L272.90 358.97 L271.10 357.07 Z M277.90 355.18 L279.70 357.07 L277.90 358.97 L276.10 357.07 Z M282.90 355.18 L284.70 357.07 L282.90 358.97 L281.10 357.07 Z M287.90 355.18 L289.70 357.07 L287.90 358.97 L286.10 357.07 Z M292.90 355.18 L294.70 357.07 L292.90 358.97 L291.10 357.07 Z" fill="#7fbd7f" opacity="0.32"/>
<path d="M270.40 274.90 L272.45 277.25 L270.40 279.60 L268.35 277.25 Z M275.40 274.90 L277.45 277.25 L275.40 279.60 L273.35 277.25 Z M280.40 274.90 L282.45 277.25 L280.40 279.60 L278.35 277.25 Z M285.40 274.90 L287.45 277.25 L285.40 279.60 L283.35 277.25 Z M290.40 274.90 L292.45 277.25 L290.40 279.60 L288.35 277.25 Z M270.40 280.05 L272.45 282.40 L270.40 284.75 L268.35 282.40 Z M275.40 280.05 L277.45 282.40 L275.40 284.75 L273.35 282.40 Z M280.40 280.05 L282.45 282.40 L280.40 284.75 L278.35 282.40 Z M285.40 280.05 L287.45 282.40 L285.40 284.75 L283.35 282.40 Z M290.40 280.05 L292.45 282.40 L290.40 284.75 L288.35 282.40 Z M270.40 285.20 L272.45 287.55 L270.40 289.90 L268.35 287.55 Z M275.40 285.20 L277.45 287.55 L275.40 289.90 L273.35 287.55 Z M280.40 285.20 L282.45 287.55 L280.40 289.90 L278.35 287.55 Z M285.40 285.20 L287.45 287.55 L285.40 289.90 L283.35 287.55 Z M290.40 285.20 L292.45 287.55 L290.40 289.90 L288.35 287.55 Z M270.40 290.35 L272.45 292.70 L270.40 295.05 L268.35 292.70 Z M275.40 290.35 L277.45 292.70 L275.40 295.05 L273.35 292.70 Z M280.40 290.35 L282.45 292.70 L280.40 295.05 L278.35 292.70 Z M285.40 290.35 L287.45 292.70 L285.40 295.05 L283.35 292.70 Z M290.40 290.35 L292.45 292.70 L290.40 295.05 L288.35 292.70 Z M270.40 295.50 L272.45 297.85 L270.40 300.20 L268.35 297.85 Z M275.40 295.50 L277.45 297.85 L275.40 300.20 L273.35 297.85 Z M280.40 295.50 L282.45 297.85 L280.40 300.20 L278.35 297.85 Z M285.40 295.50 L287.45 297.85 L285.40 300.20 L283.35 297.85 Z M290.40 295.50 L292.45 297.85 L290.40 300.20 L288.35 297.85 Z M270.40 300.65 L272.45 303.00 L270.40 305.35 L268.35 303.00 Z M275.40 300.65 L277.45 303.00 L275.40 305.35 L273.35 303.00 Z M280.40 300.65 L282.45 303.00 L280.40 305.35 L278.35 303.00 Z M285.40 300.65 L287.45 303.00 L285.40 305.35 L283.35 303.00 Z M290.40 300.65 L292.45 303.00 L290.40 305.35 L288.35 303.00 Z M270.40 305.80 L272.45 308.15 L270.40 310.50 L268.35 308.15 Z M275.40 305.80 L277.45 308.15 L275.40 310.50 L273.35 308.15 Z M280.40 305.80 L282.45 308.15 L280.40 310.50 L278.35 308.15 Z M285.40 305.80 L287.45 308.15 L285.40 310.50 L283.35 308.15 Z M290.40 305.80 L292.45 308.15 L290.40 310.50 L288.35 308.15 Z M270.40 310.95 L272.45 313.30 L270.40 315.65 L268.35 313.30 Z M275.40 310.95 L277.45 313.30 L275.40 315.65 L273.35 313.30 Z M280.40 310.95 L282.45 313.30 L280.40 315.65 L278.35 313.30 Z M285.40 310.95 L287.45 313.30 L285.40 315.65 L283.35 313.30 Z M290.40 310.95 L292.45 313.30 L290.40 315.65 L288.35 313.30 Z M270.40 316.10 L272.45 318.45 L270.40 320.80 L268.35 318.45 Z M275.40 316.10 L277.45 318.45 L275.40 320.80 L273.35 318.45 Z M280.40 316.10 L282.45 318.45 L280.40 320.80 L278.35 318.45 Z M285.40 316.10 L287.45 318.45 L285.40 320.80 L283.35 318.45 Z M290.40 316.10 L292.45 318.45 L290.40 320.80 L288.35 318.45 Z M270.40 321.25 L272.45 323.60 L270.40 325.95 L268.35 323.60 Z M275.40 321.25 L277.45 323.60 L275.40 325.95 L273.35 323.60 Z M280.40 321.25 L282.45 323.60 L280.40 325.95 L278.35 323.60 Z M285.40 321.25 L287.45 323.60 L285.40 325.95 L283.35 323.60 Z M290.40 321.25 L292.45 323.60 L290.40 325.95 L288.35 323.60 Z M270.40 326.40 L272.45 328.75 L270.40 331.10 L268.35 328.75 Z M275.40 326.40 L277.45 328.75 L275.40 331.10 L273.35 328.75 Z M280.40 326.40 L282.45 328.75 L280.40 331.10 L278.35 328.75 Z M285.40 326.40 L287.45 328.75 L285.40 331.10 L283.35 328.75 Z M290.40 326.40 L292.45 328.75 L290.40 331.10 L288.35 328.75 Z M270.40 331.55 L272.45 333.90 L270.40 336.25 L268.35 333.90 Z M275.40 331.55 L277.45 333.90 L275.40 336.25 L273.35 333.90 Z M280.40 331.55 L282.45 333.90 L280.40 336.25 L278.35 333.90 Z M285.40 331.55 L287.45 333.90 L285.40 336.25 L283.35 333.90 Z M290.40 331.55 L292.45 333.90 L290.40 336.25 L288.35 333.90 Z M270.40 336.70 L272.45 339.05 L270.40 341.40 L268.35 339.05 Z M275.40 336.70 L277.45 339.05 L275.40 341.40 L273.35 339.05 Z M280.40 336.70 L282.45 339.05 L280.40 341.40 L278.35 339.05 Z M285.40 336.70 L287.45 339.05 L285.40 341.40 L283.35 339.05 Z M290.40 336.70 L292.45 339.05 L290.40 341.40 L288.35 339.05 Z M270.40 341.85 L272.45 344.20 L270.40 346.55 L268.35 344.20 Z M275.40 341.85 L277.45 344.20 L275.40 346.55 L273.35 344.20 Z M280.40 341.85 L282.45 344.20 L280.40 346.55 L278.35 344.20 Z M285.40 341.85 L287.45 344.20 L285.40 346.55 L283.35 344.20 Z M290.40 341.85 L292.45 344.20 L290.40 346.55 L288.35 344.20 Z M270.40 347.00 L272.45 349.35 L270.40 351.70 L268.35 349.35 Z M275.40 347.00 L277.45 349.35 L275.40 351.70 L273.35 349.35 Z M280.40 347.00 L282.45 349.35 L280.40 351.70 L278.35 349.35 Z M285.40 347.00 L287.45 349.35 L285.40 351.70 L283.35 349.35 Z M290.40 347.00 L292.45 349.35 L290.40 351.70 L288.35 349.35 Z M270.40 352.15 L272.45 354.50 L270.40 356.85 L268.35 354.50 Z M275.40 352.15 L277.45 354.50 L275.40 356.85 L273.35 354.50 Z M280.40 352.15 L282.45 354.50 L280.40 356.85 L278.35 354.50 Z M285.40 352.15 L287.45 354.50 L285.40 356.85 L283.35 354.50 Z M290.40 352.15 L292.45 354.50 L290.40 356.85 L288.35 354.50 Z" fill="#fff" opacity="0.7"/>
</g>
<text x="275.3" y="357.6" font-size="9.0" text-anchor="middle" font-weight="normal" fill="#111" textLength="18.0" lengthAdjust="spacing" >GPF</text>
<rect x="308.70" y="293.00" width="11.30" height="52.20" fill="url(#gR)"/>
<rect x="320.00" y="226.30" width="11.50" height="118.90" fill="url(#gR)"/>
<clipPath id="pc2"><rect x="320.00" y="226.30" width="11.50" height="118.90"/></clipPath>
<g clip-path="url(#pc2)">
<rect x="320.00" y="226.30" width="11.50" height="118.90" fill="#fff" opacity="0.22"/>
<path d="M318.10 221.28 L319.90 223.18 L318.10 225.08 L316.30 223.18 Z M323.10 221.28 L324.90 223.18 L323.10 225.08 L321.30 223.18 Z M328.10 221.28 L329.90 223.18 L328.10 225.08 L326.30 223.18 Z M333.10 221.28 L334.90 223.18 L333.10 225.08 L331.30 223.18 Z M338.10 221.28 L339.90 223.18 L338.10 225.08 L336.30 223.18 Z M318.10 226.42 L319.90 228.32 L318.10 230.22 L316.30 228.32 Z M323.10 226.42 L324.90 228.32 L323.10 230.22 L321.30 228.32 Z M328.10 226.42 L329.90 228.32 L328.10 230.22 L326.30 228.32 Z M333.10 226.42 L334.90 228.32 L333.10 230.22 L331.30 228.32 Z M338.10 226.42 L339.90 228.32 L338.10 230.22 L336.30 228.32 Z M318.10 231.58 L319.90 233.48 L318.10 235.38 L316.30 233.48 Z M323.10 231.58 L324.90 233.48 L323.10 235.38 L321.30 233.48 Z M328.10 231.58 L329.90 233.48 L328.10 235.38 L326.30 233.48 Z M333.10 231.58 L334.90 233.48 L333.10 235.38 L331.30 233.48 Z M338.10 231.58 L339.90 233.48 L338.10 235.38 L336.30 233.48 Z M318.10 236.72 L319.90 238.62 L318.10 240.53 L316.30 238.62 Z M323.10 236.72 L324.90 238.62 L323.10 240.53 L321.30 238.62 Z M328.10 236.72 L329.90 238.62 L328.10 240.53 L326.30 238.62 Z M333.10 236.72 L334.90 238.62 L333.10 240.53 L331.30 238.62 Z M338.10 236.72 L339.90 238.62 L338.10 240.53 L336.30 238.62 Z M318.10 241.88 L319.90 243.78 L318.10 245.68 L316.30 243.78 Z M323.10 241.88 L324.90 243.78 L323.10 245.68 L321.30 243.78 Z M328.10 241.88 L329.90 243.78 L328.10 245.68 L326.30 243.78 Z M333.10 241.88 L334.90 243.78 L333.10 245.68 L331.30 243.78 Z M338.10 241.88 L339.90 243.78 L338.10 245.68 L336.30 243.78 Z M318.10 247.03 L319.90 248.93 L318.10 250.83 L316.30 248.93 Z M323.10 247.03 L324.90 248.93 L323.10 250.83 L321.30 248.93 Z M328.10 247.03 L329.90 248.93 L328.10 250.83 L326.30 248.93 Z M333.10 247.03 L334.90 248.93 L333.10 250.83 L331.30 248.93 Z M338.10 247.03 L339.90 248.93 L338.10 250.83 L336.30 248.93 Z M318.10 252.18 L319.90 254.08 L318.10 255.98 L316.30 254.08 Z M323.10 252.18 L324.90 254.08 L323.10 255.98 L321.30 254.08 Z M328.10 252.18 L329.90 254.08 L328.10 255.98 L326.30 254.08 Z M333.10 252.18 L334.90 254.08 L333.10 255.98 L331.30 254.08 Z M338.10 252.18 L339.90 254.08 L338.10 255.98 L336.30 254.08 Z M318.10 257.33 L319.90 259.23 L318.10 261.12 L316.30 259.23 Z M323.10 257.33 L324.90 259.23 L323.10 261.12 L321.30 259.23 Z M328.10 257.33 L329.90 259.23 L328.10 261.12 L326.30 259.23 Z M333.10 257.33 L334.90 259.23 L333.10 261.12 L331.30 259.23 Z M338.10 257.33 L339.90 259.23 L338.10 261.12 L336.30 259.23 Z M318.10 262.48 L319.90 264.38 L318.10 266.27 L316.30 264.38 Z M323.10 262.48 L324.90 264.38 L323.10 266.27 L321.30 264.38 Z M328.10 262.48 L329.90 264.38 L328.10 266.27 L326.30 264.38 Z M333.10 262.48 L334.90 264.38 L333.10 266.27 L331.30 264.38 Z M338.10 262.48 L339.90 264.38 L338.10 266.27 L336.30 264.38 Z M318.10 267.63 L319.90 269.53 L318.10 271.43 L316.30 269.53 Z M323.10 267.63 L324.90 269.53 L323.10 271.43 L321.30 269.53 Z M328.10 267.63 L329.90 269.53 L328.10 271.43 L326.30 269.53 Z M333.10 267.63 L334.90 269.53 L333.10 271.43 L331.30 269.53 Z M338.10 267.63 L339.90 269.53 L338.10 271.43 L336.30 269.53 Z M318.10 272.78 L319.90 274.68 L318.10 276.57 L316.30 274.68 Z M323.10 272.78 L324.90 274.68 L323.10 276.57 L321.30 274.68 Z M328.10 272.78 L329.90 274.68 L328.10 276.57 L326.30 274.68 Z M333.10 272.78 L334.90 274.68 L333.10 276.57 L331.30 274.68 Z M338.10 272.78 L339.90 274.68 L338.10 276.57 L336.30 274.68 Z M318.10 277.93 L319.90 279.82 L318.10 281.72 L316.30 279.82 Z M323.10 277.93 L324.90 279.82 L323.10 281.72 L321.30 279.82 Z M328.10 277.93 L329.90 279.82 L328.10 281.72 L326.30 279.82 Z M333.10 277.93 L334.90 279.82 L333.10 281.72 L331.30 279.82 Z M338.10 277.93 L339.90 279.82 L338.10 281.72 L336.30 279.82 Z M318.10 283.08 L319.90 284.98 L318.10 286.88 L316.30 284.98 Z M323.10 283.08 L324.90 284.98 L323.10 286.88 L321.30 284.98 Z M328.10 283.08 L329.90 284.98 L328.10 286.88 L326.30 284.98 Z M333.10 283.08 L334.90 284.98 L333.10 286.88 L331.30 284.98 Z M338.10 283.08 L339.90 284.98 L338.10 286.88 L336.30 284.98 Z M318.10 288.23 L319.90 290.12 L318.10 292.02 L316.30 290.12 Z M323.10 288.23 L324.90 290.12 L323.10 292.02 L321.30 290.12 Z M328.10 288.23 L329.90 290.12 L328.10 292.02 L326.30 290.12 Z M333.10 288.23 L334.90 290.12 L333.10 292.02 L331.30 290.12 Z M338.10 288.23 L339.90 290.12 L338.10 292.02 L336.30 290.12 Z M318.10 293.38 L319.90 295.28 L318.10 297.18 L316.30 295.28 Z M323.10 293.38 L324.90 295.28 L323.10 297.18 L321.30 295.28 Z M328.10 293.38 L329.90 295.28 L328.10 297.18 L326.30 295.28 Z M333.10 293.38 L334.90 295.28 L333.10 297.18 L331.30 295.28 Z M338.10 293.38 L339.90 295.28 L338.10 297.18 L336.30 295.28 Z M318.10 298.53 L319.90 300.43 L318.10 302.32 L316.30 300.43 Z M323.10 298.53 L324.90 300.43 L323.10 302.32 L321.30 300.43 Z M328.10 298.53 L329.90 300.43 L328.10 302.32 L326.30 300.43 Z M333.10 298.53 L334.90 300.43 L333.10 302.32 L331.30 300.43 Z M338.10 298.53 L339.90 300.43 L338.10 302.32 L336.30 300.43 Z M318.10 303.68 L319.90 305.57 L318.10 307.47 L316.30 305.57 Z M323.10 303.68 L324.90 305.57 L323.10 307.47 L321.30 305.57 Z M328.10 303.68 L329.90 305.57 L328.10 307.47 L326.30 305.57 Z M333.10 303.68 L334.90 305.57 L333.10 307.47 L331.30 305.57 Z M338.10 303.68 L339.90 305.57 L338.10 307.47 L336.30 305.57 Z M318.10 308.83 L319.90 310.73 L318.10 312.62 L316.30 310.73 Z M323.10 308.83 L324.90 310.73 L323.10 312.62 L321.30 310.73 Z M328.10 308.83 L329.90 310.73 L328.10 312.62 L326.30 310.73 Z M333.10 308.83 L334.90 310.73 L333.10 312.62 L331.30 310.73 Z M338.10 308.83 L339.90 310.73 L338.10 312.62 L336.30 310.73 Z M318.10 313.98 L319.90 315.88 L318.10 317.77 L316.30 315.88 Z M323.10 313.98 L324.90 315.88 L323.10 317.77 L321.30 315.88 Z M328.10 313.98 L329.90 315.88 L328.10 317.77 L326.30 315.88 Z M333.10 313.98 L334.90 315.88 L333.10 317.77 L331.30 315.88 Z M338.10 313.98 L339.90 315.88 L338.10 317.77 L336.30 315.88 Z M318.10 319.13 L319.90 321.03 L318.10 322.93 L316.30 321.03 Z M323.10 319.13 L324.90 321.03 L323.10 322.93 L321.30 321.03 Z M328.10 319.13 L329.90 321.03 L328.10 322.93 L326.30 321.03 Z M333.10 319.13 L334.90 321.03 L333.10 322.93 L331.30 321.03 Z M338.10 319.13 L339.90 321.03 L338.10 322.93 L336.30 321.03 Z M318.10 324.28 L319.90 326.18 L318.10 328.07 L316.30 326.18 Z M323.10 324.28 L324.90 326.18 L323.10 328.07 L321.30 326.18 Z M328.10 324.28 L329.90 326.18 L328.10 328.07 L326.30 326.18 Z M333.10 324.28 L334.90 326.18 L333.10 328.07 L331.30 326.18 Z M338.10 324.28 L339.90 326.18 L338.10 328.07 L336.30 326.18 Z M318.10 329.43 L319.90 331.32 L318.10 333.22 L316.30 331.32 Z M323.10 329.43 L324.90 331.32 L323.10 333.22 L321.30 331.32 Z M328.10 329.43 L329.90 331.32 L328.10 333.22 L326.30 331.32 Z M333.10 329.43 L334.90 331.32 L333.10 333.22 L331.30 331.32 Z M338.10 329.43 L339.90 331.32 L338.10 333.22 L336.30 331.32 Z M318.10 334.58 L319.90 336.48 L318.10 338.38 L316.30 336.48 Z M323.10 334.58 L324.90 336.48 L323.10 338.38 L321.30 336.48 Z M328.10 334.58 L329.90 336.48 L328.10 338.38 L326.30 336.48 Z M333.10 334.58 L334.90 336.48 L333.10 338.38 L331.30 336.48 Z M338.10 334.58 L339.90 336.48 L338.10 338.38 L336.30 336.48 Z M318.10 339.73 L319.90 341.62 L318.10 343.52 L316.30 341.62 Z M323.10 339.73 L324.90 341.62 L323.10 343.52 L321.30 341.62 Z M328.10 339.73 L329.90 341.62 L328.10 343.52 L326.30 341.62 Z M333.10 339.73 L334.90 341.62 L333.10 343.52 L331.30 341.62 Z M338.10 339.73 L339.90 341.62 L338.10 343.52 L336.30 341.62 Z M318.10 344.88 L319.90 346.78 L318.10 348.68 L316.30 346.78 Z M323.10 344.88 L324.90 346.78 L323.10 348.68 L321.30 346.78 Z M328.10 344.88 L329.90 346.78 L328.10 348.68 L326.30 346.78 Z M333.10 344.88 L334.90 346.78 L333.10 348.68 L331.30 346.78 Z M338.10 344.88 L339.90 346.78 L338.10 348.68 L336.30 346.78 Z M318.10 350.03 L319.90 351.93 L318.10 353.82 L316.30 351.93 Z M323.10 350.03 L324.90 351.93 L323.10 353.82 L321.30 351.93 Z M328.10 350.03 L329.90 351.93 L328.10 353.82 L326.30 351.93 Z M333.10 350.03 L334.90 351.93 L333.10 353.82 L331.30 351.93 Z M338.10 350.03 L339.90 351.93 L338.10 353.82 L336.30 351.93 Z M318.10 355.18 L319.90 357.07 L318.10 358.97 L316.30 357.07 Z M323.10 355.18 L324.90 357.07 L323.10 358.97 L321.30 357.07 Z M328.10 355.18 L329.90 357.07 L328.10 358.97 L326.30 357.07 Z M333.10 355.18 L334.90 357.07 L333.10 358.97 L331.30 357.07 Z M338.10 355.18 L339.90 357.07 L338.10 358.97 L336.30 357.07 Z" fill="#ee8080" opacity="0.32"/>
<path d="M315.60 218.25 L317.65 220.60 L315.60 222.95 L313.55 220.60 Z M320.60 218.25 L322.65 220.60 L320.60 222.95 L318.55 220.60 Z M325.60 218.25 L327.65 220.60 L325.60 222.95 L323.55 220.60 Z M330.60 218.25 L332.65 220.60 L330.60 222.95 L328.55 220.60 Z M335.60 218.25 L337.65 220.60 L335.60 222.95 L333.55 220.60 Z M315.60 223.40 L317.65 225.75 L315.60 228.10 L313.55 225.75 Z M320.60 223.40 L322.65 225.75 L320.60 228.10 L318.55 225.75 Z M325.60 223.40 L327.65 225.75 L325.60 228.10 L323.55 225.75 Z M330.60 223.40 L332.65 225.75 L330.60 228.10 L328.55 225.75 Z M335.60 223.40 L337.65 225.75 L335.60 228.10 L333.55 225.75 Z M315.60 228.55 L317.65 230.90 L315.60 233.25 L313.55 230.90 Z M320.60 228.55 L322.65 230.90 L320.60 233.25 L318.55 230.90 Z M325.60 228.55 L327.65 230.90 L325.60 233.25 L323.55 230.90 Z M330.60 228.55 L332.65 230.90 L330.60 233.25 L328.55 230.90 Z M335.60 228.55 L337.65 230.90 L335.60 233.25 L333.55 230.90 Z M315.60 233.70 L317.65 236.05 L315.60 238.40 L313.55 236.05 Z M320.60 233.70 L322.65 236.05 L320.60 238.40 L318.55 236.05 Z M325.60 233.70 L327.65 236.05 L325.60 238.40 L323.55 236.05 Z M330.60 233.70 L332.65 236.05 L330.60 238.40 L328.55 236.05 Z M335.60 233.70 L337.65 236.05 L335.60 238.40 L333.55 236.05 Z M315.60 238.85 L317.65 241.20 L315.60 243.55 L313.55 241.20 Z M320.60 238.85 L322.65 241.20 L320.60 243.55 L318.55 241.20 Z M325.60 238.85 L327.65 241.20 L325.60 243.55 L323.55 241.20 Z M330.60 238.85 L332.65 241.20 L330.60 243.55 L328.55 241.20 Z M335.60 238.85 L337.65 241.20 L335.60 243.55 L333.55 241.20 Z M315.60 244.00 L317.65 246.35 L315.60 248.70 L313.55 246.35 Z M320.60 244.00 L322.65 246.35 L320.60 248.70 L318.55 246.35 Z M325.60 244.00 L327.65 246.35 L325.60 248.70 L323.55 246.35 Z M330.60 244.00 L332.65 246.35 L330.60 248.70 L328.55 246.35 Z M335.60 244.00 L337.65 246.35 L335.60 248.70 L333.55 246.35 Z M315.60 249.15 L317.65 251.50 L315.60 253.85 L313.55 251.50 Z M320.60 249.15 L322.65 251.50 L320.60 253.85 L318.55 251.50 Z M325.60 249.15 L327.65 251.50 L325.60 253.85 L323.55 251.50 Z M330.60 249.15 L332.65 251.50 L330.60 253.85 L328.55 251.50 Z M335.60 249.15 L337.65 251.50 L335.60 253.85 L333.55 251.50 Z M315.60 254.30 L317.65 256.65 L315.60 259.00 L313.55 256.65 Z M320.60 254.30 L322.65 256.65 L320.60 259.00 L318.55 256.65 Z M325.60 254.30 L327.65 256.65 L325.60 259.00 L323.55 256.65 Z M330.60 254.30 L332.65 256.65 L330.60 259.00 L328.55 256.65 Z M335.60 254.30 L337.65 256.65 L335.60 259.00 L333.55 256.65 Z M315.60 259.45 L317.65 261.80 L315.60 264.15 L313.55 261.80 Z M320.60 259.45 L322.65 261.80 L320.60 264.15 L318.55 261.80 Z M325.60 259.45 L327.65 261.80 L325.60 264.15 L323.55 261.80 Z M330.60 259.45 L332.65 261.80 L330.60 264.15 L328.55 261.80 Z M335.60 259.45 L337.65 261.80 L335.60 264.15 L333.55 261.80 Z M315.60 264.60 L317.65 266.95 L315.60 269.30 L313.55 266.95 Z M320.60 264.60 L322.65 266.95 L320.60 269.30 L318.55 266.95 Z M325.60 264.60 L327.65 266.95 L325.60 269.30 L323.55 266.95 Z M330.60 264.60 L332.65 266.95 L330.60 269.30 L328.55 266.95 Z M335.60 264.60 L337.65 266.95 L335.60 269.30 L333.55 266.95 Z M315.60 269.75 L317.65 272.10 L315.60 274.45 L313.55 272.10 Z M320.60 269.75 L322.65 272.10 L320.60 274.45 L318.55 272.10 Z M325.60 269.75 L327.65 272.10 L325.60 274.45 L323.55 272.10 Z M330.60 269.75 L332.65 272.10 L330.60 274.45 L328.55 272.10 Z M335.60 269.75 L337.65 272.10 L335.60 274.45 L333.55 272.10 Z M315.60 274.90 L317.65 277.25 L315.60 279.60 L313.55 277.25 Z M320.60 274.90 L322.65 277.25 L320.60 279.60 L318.55 277.25 Z M325.60 274.90 L327.65 277.25 L325.60 279.60 L323.55 277.25 Z M330.60 274.90 L332.65 277.25 L330.60 279.60 L328.55 277.25 Z M335.60 274.90 L337.65 277.25 L335.60 279.60 L333.55 277.25 Z M315.60 280.05 L317.65 282.40 L315.60 284.75 L313.55 282.40 Z M320.60 280.05 L322.65 282.40 L320.60 284.75 L318.55 282.40 Z M325.60 280.05 L327.65 282.40 L325.60 284.75 L323.55 282.40 Z M330.60 280.05 L332.65 282.40 L330.60 284.75 L328.55 282.40 Z M335.60 280.05 L337.65 282.40 L335.60 284.75 L333.55 282.40 Z M315.60 285.20 L317.65 287.55 L315.60 289.90 L313.55 287.55 Z M320.60 285.20 L322.65 287.55 L320.60 289.90 L318.55 287.55 Z M325.60 285.20 L327.65 287.55 L325.60 289.90 L323.55 287.55 Z M330.60 285.20 L332.65 287.55 L330.60 289.90 L328.55 287.55 Z M335.60 285.20 L337.65 287.55 L335.60 289.90 L333.55 287.55 Z M315.60 290.35 L317.65 292.70 L315.60 295.05 L313.55 292.70 Z M320.60 290.35 L322.65 292.70 L320.60 295.05 L318.55 292.70 Z M325.60 290.35 L327.65 292.70 L325.60 295.05 L323.55 292.70 Z M330.60 290.35 L332.65 292.70 L330.60 295.05 L328.55 292.70 Z M335.60 290.35 L337.65 292.70 L335.60 295.05 L333.55 292.70 Z M315.60 295.50 L317.65 297.85 L315.60 300.20 L313.55 297.85 Z M320.60 295.50 L322.65 297.85 L320.60 300.20 L318.55 297.85 Z M325.60 295.50 L327.65 297.85 L325.60 300.20 L323.55 297.85 Z M330.60 295.50 L332.65 297.85 L330.60 300.20 L328.55 297.85 Z M335.60 295.50 L337.65 297.85 L335.60 300.20 L333.55 297.85 Z M315.60 300.65 L317.65 303.00 L315.60 305.35 L313.55 303.00 Z M320.60 300.65 L322.65 303.00 L320.60 305.35 L318.55 303.00 Z M325.60 300.65 L327.65 303.00 L325.60 305.35 L323.55 303.00 Z M330.60 300.65 L332.65 303.00 L330.60 305.35 L328.55 303.00 Z M335.60 300.65 L337.65 303.00 L335.60 305.35 L333.55 303.00 Z M315.60 305.80 L317.65 308.15 L315.60 310.50 L313.55 308.15 Z M320.60 305.80 L322.65 308.15 L320.60 310.50 L318.55 308.15 Z M325.60 305.80 L327.65 308.15 L325.60 310.50 L323.55 308.15 Z M330.60 305.80 L332.65 308.15 L330.60 310.50 L328.55 308.15 Z M335.60 305.80 L337.65 308.15 L335.60 310.50 L333.55 308.15 Z M315.60 310.95 L317.65 313.30 L315.60 315.65 L313.55 313.30 Z M320.60 310.95 L322.65 313.30 L320.60 315.65 L318.55 313.30 Z M325.60 310.95 L327.65 313.30 L325.60 315.65 L323.55 313.30 Z M330.60 310.95 L332.65 313.30 L330.60 315.65 L328.55 313.30 Z M335.60 310.95 L337.65 313.30 L335.60 315.65 L333.55 313.30 Z M315.60 316.10 L317.65 318.45 L315.60 320.80 L313.55 318.45 Z M320.60 316.10 L322.65 318.45 L320.60 320.80 L318.55 318.45 Z M325.60 316.10 L327.65 318.45 L325.60 320.80 L323.55 318.45 Z M330.60 316.10 L332.65 318.45 L330.60 320.80 L328.55 318.45 Z M335.60 316.10 L337.65 318.45 L335.60 320.80 L333.55 318.45 Z M315.60 321.25 L317.65 323.60 L315.60 325.95 L313.55 323.60 Z M320.60 321.25 L322.65 323.60 L320.60 325.95 L318.55 323.60 Z M325.60 321.25 L327.65 323.60 L325.60 325.95 L323.55 323.60 Z M330.60 321.25 L332.65 323.60 L330.60 325.95 L328.55 323.60 Z M335.60 321.25 L337.65 323.60 L335.60 325.95 L333.55 323.60 Z M315.60 326.40 L317.65 328.75 L315.60 331.10 L313.55 328.75 Z M320.60 326.40 L322.65 328.75 L320.60 331.10 L318.55 328.75 Z M325.60 326.40 L327.65 328.75 L325.60 331.10 L323.55 328.75 Z M330.60 326.40 L332.65 328.75 L330.60 331.10 L328.55 328.75 Z M335.60 326.40 L337.65 328.75 L335.60 331.10 L333.55 328.75 Z M315.60 331.55 L317.65 333.90 L315.60 336.25 L313.55 333.90 Z M320.60 331.55 L322.65 333.90 L320.60 336.25 L318.55 333.90 Z M325.60 331.55 L327.65 333.90 L325.60 336.25 L323.55 333.90 Z M330.60 331.55 L332.65 333.90 L330.60 336.25 L328.55 333.90 Z M335.60 331.55 L337.65 333.90 L335.60 336.25 L333.55 333.90 Z M315.60 336.70 L317.65 339.05 L315.60 341.40 L313.55 339.05 Z M320.60 336.70 L322.65 339.05 L320.60 341.40 L318.55 339.05 Z M325.60 336.70 L327.65 339.05 L325.60 341.40 L323.55 339.05 Z M330.60 336.70 L332.65 339.05 L330.60 341.40 L328.55 339.05 Z M335.60 336.70 L337.65 339.05 L335.60 341.40 L333.55 339.05 Z M315.60 341.85 L317.65 344.20 L315.60 346.55 L313.55 344.20 Z M320.60 341.85 L322.65 344.20 L320.60 346.55 L318.55 344.20 Z M325.60 341.85 L327.65 344.20 L325.60 346.55 L323.55 344.20 Z M330.60 341.85 L332.65 344.20 L330.60 346.55 L328.55 344.20 Z M335.60 341.85 L337.65 344.20 L335.60 346.55 L333.55 344.20 Z M315.60 347.00 L317.65 349.35 L315.60 351.70 L313.55 349.35 Z M320.60 347.00 L322.65 349.35 L320.60 351.70 L318.55 349.35 Z M325.60 347.00 L327.65 349.35 L325.60 351.70 L323.55 349.35 Z M330.60 347.00 L332.65 349.35 L330.60 351.70 L328.55 349.35 Z M335.60 347.00 L337.65 349.35 L335.60 351.70 L333.55 349.35 Z M315.60 352.15 L317.65 354.50 L315.60 356.85 L313.55 354.50 Z M320.60 352.15 L322.65 354.50 L320.60 356.85 L318.55 354.50 Z M325.60 352.15 L327.65 354.50 L325.60 356.85 L323.55 354.50 Z M330.60 352.15 L332.65 354.50 L330.60 356.85 L328.55 354.50 Z M335.60 352.15 L337.65 354.50 L335.60 356.85 L333.55 354.50 Z" fill="#fff" opacity="0.7"/>
</g>
<text x="320.3" y="357.6" font-size="9.0" text-anchor="middle" font-weight="normal" fill="#111" textLength="17.6" lengthAdjust="spacing" >SBS</text>
<rect x="353.60" y="291.00" width="11.30" height="54.20" fill="url(#gB)"/>
<rect x="364.90" y="237.20" width="11.50" height="108.00" fill="url(#gB)"/>
<clipPath id="pc3"><rect x="364.90" y="237.20" width="11.50" height="108.00"/></clipPath>
<g clip-path="url(#pc3)">
<rect x="364.90" y="237.20" width="11.50" height="108.00" fill="#fff" opacity="0.22"/>
<path d="M364.50 231.58 L366.30 233.48 L364.50 235.38 L362.70 233.48 Z M369.50 231.58 L371.30 233.48 L369.50 235.38 L367.70 233.48 Z M374.50 231.58 L376.30 233.48 L374.50 235.38 L372.70 233.48 Z M379.50 231.58 L381.30 233.48 L379.50 235.38 L377.70 233.48 Z M384.50 231.58 L386.30 233.48 L384.50 235.38 L382.70 233.48 Z M364.50 236.72 L366.30 238.62 L364.50 240.53 L362.70 238.62 Z M369.50 236.72 L371.30 238.62 L369.50 240.53 L367.70 238.62 Z M374.50 236.72 L376.30 238.62 L374.50 240.53 L372.70 238.62 Z M379.50 236.72 L381.30 238.62 L379.50 240.53 L377.70 238.62 Z M384.50 236.72 L386.30 238.62 L384.50 240.53 L382.70 238.62 Z M364.50 241.88 L366.30 243.78 L364.50 245.68 L362.70 243.78 Z M369.50 241.88 L371.30 243.78 L369.50 245.68 L367.70 243.78 Z M374.50 241.88 L376.30 243.78 L374.50 245.68 L372.70 243.78 Z M379.50 241.88 L381.30 243.78 L379.50 245.68 L377.70 243.78 Z M384.50 241.88 L386.30 243.78 L384.50 245.68 L382.70 243.78 Z M364.50 247.03 L366.30 248.93 L364.50 250.83 L362.70 248.93 Z M369.50 247.03 L371.30 248.93 L369.50 250.83 L367.70 248.93 Z M374.50 247.03 L376.30 248.93 L374.50 250.83 L372.70 248.93 Z M379.50 247.03 L381.30 248.93 L379.50 250.83 L377.70 248.93 Z M384.50 247.03 L386.30 248.93 L384.50 250.83 L382.70 248.93 Z M364.50 252.18 L366.30 254.08 L364.50 255.98 L362.70 254.08 Z M369.50 252.18 L371.30 254.08 L369.50 255.98 L367.70 254.08 Z M374.50 252.18 L376.30 254.08 L374.50 255.98 L372.70 254.08 Z M379.50 252.18 L381.30 254.08 L379.50 255.98 L377.70 254.08 Z M384.50 252.18 L386.30 254.08 L384.50 255.98 L382.70 254.08 Z M364.50 257.33 L366.30 259.23 L364.50 261.12 L362.70 259.23 Z M369.50 257.33 L371.30 259.23 L369.50 261.12 L367.70 259.23 Z M374.50 257.33 L376.30 259.23 L374.50 261.12 L372.70 259.23 Z M379.50 257.33 L381.30 259.23 L379.50 261.12 L377.70 259.23 Z M384.50 257.33 L386.30 259.23 L384.50 261.12 L382.70 259.23 Z M364.50 262.48 L366.30 264.38 L364.50 266.27 L362.70 264.38 Z M369.50 262.48 L371.30 264.38 L369.50 266.27 L367.70 264.38 Z M374.50 262.48 L376.30 264.38 L374.50 266.27 L372.70 264.38 Z M379.50 262.48 L381.30 264.38 L379.50 266.27 L377.70 264.38 Z M384.50 262.48 L386.30 264.38 L384.50 266.27 L382.70 264.38 Z M364.50 267.63 L366.30 269.53 L364.50 271.43 L362.70 269.53 Z M369.50 267.63 L371.30 269.53 L369.50 271.43 L367.70 269.53 Z M374.50 267.63 L376.30 269.53 L374.50 271.43 L372.70 269.53 Z M379.50 267.63 L381.30 269.53 L379.50 271.43 L377.70 269.53 Z M384.50 267.63 L386.30 269.53 L384.50 271.43 L382.70 269.53 Z M364.50 272.78 L366.30 274.68 L364.50 276.57 L362.70 274.68 Z M369.50 272.78 L371.30 274.68 L369.50 276.57 L367.70 274.68 Z M374.50 272.78 L376.30 274.68 L374.50 276.57 L372.70 274.68 Z M379.50 272.78 L381.30 274.68 L379.50 276.57 L377.70 274.68 Z M384.50 272.78 L386.30 274.68 L384.50 276.57 L382.70 274.68 Z M364.50 277.93 L366.30 279.82 L364.50 281.72 L362.70 279.82 Z M369.50 277.93 L371.30 279.82 L369.50 281.72 L367.70 279.82 Z M374.50 277.93 L376.30 279.82 L374.50 281.72 L372.70 279.82 Z M379.50 277.93 L381.30 279.82 L379.50 281.72 L377.70 279.82 Z M384.50 277.93 L386.30 279.82 L384.50 281.72 L382.70 279.82 Z M364.50 283.08 L366.30 284.98 L364.50 286.88 L362.70 284.98 Z M369.50 283.08 L371.30 284.98 L369.50 286.88 L367.70 284.98 Z M374.50 283.08 L376.30 284.98 L374.50 286.88 L372.70 284.98 Z M379.50 283.08 L381.30 284.98 L379.50 286.88 L377.70 284.98 Z M384.50 283.08 L386.30 284.98 L384.50 286.88 L382.70 284.98 Z M364.50 288.23 L366.30 290.12 L364.50 292.02 L362.70 290.12 Z M369.50 288.23 L371.30 290.12 L369.50 292.02 L367.70 290.12 Z M374.50 288.23 L376.30 290.12 L374.50 292.02 L372.70 290.12 Z M379.50 288.23 L381.30 290.12 L379.50 292.02 L377.70 290.12 Z M384.50 288.23 L386.30 290.12 L384.50 292.02 L382.70 290.12 Z M364.50 293.38 L366.30 295.28 L364.50 297.18 L362.70 295.28 Z M369.50 293.38 L371.30 295.28 L369.50 297.18 L367.70 295.28 Z M374.50 293.38 L376.30 295.28 L374.50 297.18 L372.70 295.28 Z M379.50 293.38 L381.30 295.28 L379.50 297.18 L377.70 295.28 Z M384.50 293.38 L386.30 295.28 L384.50 297.18 L382.70 295.28 Z M364.50 298.53 L366.30 300.43 L364.50 302.32 L362.70 300.43 Z M369.50 298.53 L371.30 300.43 L369.50 302.32 L367.70 300.43 Z M374.50 298.53 L376.30 300.43 L374.50 302.32 L372.70 300.43 Z M379.50 298.53 L381.30 300.43 L379.50 302.32 L377.70 300.43 Z M384.50 298.53 L386.30 300.43 L384.50 302.32 L382.70 300.43 Z M364.50 303.68 L366.30 305.57 L364.50 307.47 L362.70 305.57 Z M369.50 303.68 L371.30 305.57 L369.50 307.47 L367.70 305.57 Z M374.50 303.68 L376.30 305.57 L374.50 307.47 L372.70 305.57 Z M379.50 303.68 L381.30 305.57 L379.50 307.47 L377.70 305.57 Z M384.50 303.68 L386.30 305.57 L384.50 307.47 L382.70 305.57 Z M364.50 308.83 L366.30 310.73 L364.50 312.62 L362.70 310.73 Z M369.50 308.83 L371.30 310.73 L369.50 312.62 L367.70 310.73 Z M374.50 308.83 L376.30 310.73 L374.50 312.62 L372.70 310.73 Z M379.50 308.83 L381.30 310.73 L379.50 312.62 L377.70 310.73 Z M384.50 308.83 L386.30 310.73 L384.50 312.62 L382.70 310.73 Z M364.50 313.98 L366.30 315.88 L364.50 317.77 L362.70 315.88 Z M369.50 313.98 L371.30 315.88 L369.50 317.77 L367.70 315.88 Z M374.50 313.98 L376.30 315.88 L374.50 317.77 L372.70 315.88 Z M379.50 313.98 L381.30 315.88 L379.50 317.77 L377.70 315.88 Z M384.50 313.98 L386.30 315.88 L384.50 317.77 L382.70 315.88 Z M364.50 319.13 L366.30 321.03 L364.50 322.93 L362.70 321.03 Z M369.50 319.13 L371.30 321.03 L369.50 322.93 L367.70 321.03 Z M374.50 319.13 L376.30 321.03 L374.50 322.93 L372.70 321.03 Z M379.50 319.13 L381.30 321.03 L379.50 322.93 L377.70 321.03 Z M384.50 319.13 L386.30 321.03 L384.50 322.93 L382.70 321.03 Z M364.50 324.28 L366.30 326.18 L364.50 328.07 L362.70 326.18 Z M369.50 324.28 L371.30 326.18 L369.50 328.07 L367.70 326.18 Z M374.50 324.28 L376.30 326.18 L374.50 328.07 L372.70 326.18 Z M379.50 324.28 L381.30 326.18 L379.50 328.07 L377.70 326.18 Z M384.50 324.28 L386.30 326.18 L384.50 328.07 L382.70 326.18 Z M364.50 329.43 L366.30 331.32 L364.50 333.22 L362.70 331.32 Z M369.50 329.43 L371.30 331.32 L369.50 333.22 L367.70 331.32 Z M374.50 329.43 L376.30 331.32 L374.50 333.22 L372.70 331.32 Z M379.50 329.43 L381.30 331.32 L379.50 333.22 L377.70 331.32 Z M384.50 329.43 L386.30 331.32 L384.50 333.22 L382.70 331.32 Z M364.50 334.58 L366.30 336.48 L364.50 338.38 L362.70 336.48 Z M369.50 334.58 L371.30 336.48 L369.50 338.38 L367.70 336.48 Z M374.50 334.58 L376.30 336.48 L374.50 338.38 L372.70 336.48 Z M379.50 334.58 L381.30 336.48 L379.50 338.38 L377.70 336.48 Z M384.50 334.58 L386.30 336.48 L384.50 338.38 L382.70 336.48 Z M364.50 339.73 L366.30 341.62 L364.50 343.52 L362.70 341.62 Z M369.50 339.73 L371.30 341.62 L369.50 343.52 L367.70 341.62 Z M374.50 339.73 L376.30 341.62 L374.50 343.52 L372.70 341.62 Z M379.50 339.73 L381.30 341.62 L379.50 343.52 L377.70 341.62 Z M384.50 339.73 L386.30 341.62 L384.50 343.52 L382.70 341.62 Z M364.50 344.88 L366.30 346.78 L364.50 348.68 L362.70 346.78 Z M369.50 344.88 L371.30 346.78 L369.50 348.68 L367.70 346.78 Z M374.50 344.88 L376.30 346.78 L374.50 348.68 L372.70 346.78 Z M379.50 344.88 L381.30 346.78 L379.50 348.68 L377.70 346.78 Z M384.50 344.88 L386.30 346.78 L384.50 348.68 L382.70 346.78 Z M364.50 350.03 L366.30 351.93 L364.50 353.82 L362.70 351.93 Z M369.50 350.03 L371.30 351.93 L369.50 353.82 L367.70 351.93 Z M374.50 350.03 L376.30 351.93 L374.50 353.82 L372.70 351.93 Z M379.50 350.03 L381.30 351.93 L379.50 353.82 L377.70 351.93 Z M384.50 350.03 L386.30 351.93 L384.50 353.82 L382.70 351.93 Z M364.50 355.18 L366.30 357.07 L364.50 358.97 L362.70 357.07 Z M369.50 355.18 L371.30 357.07 L369.50 358.97 L367.70 357.07 Z M374.50 355.18 L376.30 357.07 L374.50 358.97 L372.70 357.07 Z M379.50 355.18 L381.30 357.07 L379.50 358.97 L377.70 357.07 Z M384.50 355.18 L386.30 357.07 L384.50 358.97 L382.70 357.07 Z" fill="#52a6de" opacity="0.32"/>
<path d="M362.00 228.55 L364.05 230.90 L362.00 233.25 L359.95 230.90 Z M367.00 228.55 L369.05 230.90 L367.00 233.25 L364.95 230.90 Z M372.00 228.55 L374.05 230.90 L372.00 233.25 L369.95 230.90 Z M377.00 228.55 L379.05 230.90 L377.00 233.25 L374.95 230.90 Z M382.00 228.55 L384.05 230.90 L382.00 233.25 L379.95 230.90 Z M362.00 233.70 L364.05 236.05 L362.00 238.40 L359.95 236.05 Z M367.00 233.70 L369.05 236.05 L367.00 238.40 L364.95 236.05 Z M372.00 233.70 L374.05 236.05 L372.00 238.40 L369.95 236.05 Z M377.00 233.70 L379.05 236.05 L377.00 238.40 L374.95 236.05 Z M382.00 233.70 L384.05 236.05 L382.00 238.40 L379.95 236.05 Z M362.00 238.85 L364.05 241.20 L362.00 243.55 L359.95 241.20 Z M367.00 238.85 L369.05 241.20 L367.00 243.55 L364.95 241.20 Z M372.00 238.85 L374.05 241.20 L372.00 243.55 L369.95 241.20 Z M377.00 238.85 L379.05 241.20 L377.00 243.55 L374.95 241.20 Z M382.00 238.85 L384.05 241.20 L382.00 243.55 L379.95 241.20 Z M362.00 244.00 L364.05 246.35 L362.00 248.70 L359.95 246.35 Z M367.00 244.00 L369.05 246.35 L367.00 248.70 L364.95 246.35 Z M372.00 244.00 L374.05 246.35 L372.00 248.70 L369.95 246.35 Z M377.00 244.00 L379.05 246.35 L377.00 248.70 L374.95 246.35 Z M382.00 244.00 L384.05 246.35 L382.00 248.70 L379.95 246.35 Z M362.00 249.15 L364.05 251.50 L362.00 253.85 L359.95 251.50 Z M367.00 249.15 L369.05 251.50 L367.00 253.85 L364.95 251.50 Z M372.00 249.15 L374.05 251.50 L372.00 253.85 L369.95 251.50 Z M377.00 249.15 L379.05 251.50 L377.00 253.85 L374.95 251.50 Z M382.00 249.15 L384.05 251.50 L382.00 253.85 L379.95 251.50 Z M362.00 254.30 L364.05 256.65 L362.00 259.00 L359.95 256.65 Z M367.00 254.30 L369.05 256.65 L367.00 259.00 L364.95 256.65 Z M372.00 254.30 L374.05 256.65 L372.00 259.00 L369.95 256.65 Z M377.00 254.30 L379.05 256.65 L377.00 259.00 L374.95 256.65 Z M382.00 254.30 L384.05 256.65 L382.00 259.00 L379.95 256.65 Z M362.00 259.45 L364.05 261.80 L362.00 264.15 L359.95 261.80 Z M367.00 259.45 L369.05 261.80 L367.00 264.15 L364.95 261.80 Z M372.00 259.45 L374.05 261.80 L372.00 264.15 L369.95 261.80 Z M377.00 259.45 L379.05 261.80 L377.00 264.15 L374.95 261.80 Z M382.00 259.45 L384.05 261.80 L382.00 264.15 L379.95 261.80 Z M362.00 264.60 L364.05 266.95 L362.00 269.30 L359.95 266.95 Z M367.00 264.60 L369.05 266.95 L367.00 269.30 L364.95 266.95 Z M372.00 264.60 L374.05 266.95 L372.00 269.30 L369.95 266.95 Z M377.00 264.60 L379.05 266.95 L377.00 269.30 L374.95 266.95 Z M382.00 264.60 L384.05 266.95 L382.00 269.30 L379.95 266.95 Z M362.00 269.75 L364.05 272.10 L362.00 274.45 L359.95 272.10 Z M367.00 269.75 L369.05 272.10 L367.00 274.45 L364.95 272.10 Z M372.00 269.75 L374.05 272.10 L372.00 274.45 L369.95 272.10 Z M377.00 269.75 L379.05 272.10 L377.00 274.45 L374.95 272.10 Z M382.00 269.75 L384.05 272.10 L382.00 274.45 L379.95 272.10 Z M362.00 274.90 L364.05 277.25 L362.00 279.60 L359.95 277.25 Z M367.00 274.90 L369.05 277.25 L367.00 279.60 L364.95 277.25 Z M372.00 274.90 L374.05 277.25 L372.00 279.60 L369.95 277.25 Z M377.00 274.90 L379.05 277.25 L377.00 279.60 L374.95 277.25 Z M382.00 274.90 L384.05 277.25 L382.00 279.60 L379.95 277.25 Z M362.00 280.05 L364.05 282.40 L362.00 284.75 L359.95 282.40 Z M367.00 280.05 L369.05 282.40 L367.00 284.75 L364.95 282.40 Z M372.00 280.05 L374.05 282.40 L372.00 284.75 L369.95 282.40 Z M377.00 280.05 L379.05 282.40 L377.00 284.75 L374.95 282.40 Z M382.00 280.05 L384.05 282.40 L382.00 284.75 L379.95 282.40 Z M362.00 285.20 L364.05 287.55 L362.00 289.90 L359.95 287.55 Z M367.00 285.20 L369.05 287.55 L367.00 289.90 L364.95 287.55 Z M372.00 285.20 L374.05 287.55 L372.00 289.90 L369.95 287.55 Z M377.00 285.20 L379.05 287.55 L377.00 289.90 L374.95 287.55 Z M382.00 285.20 L384.05 287.55 L382.00 289.90 L379.95 287.55 Z M362.00 290.35 L364.05 292.70 L362.00 295.05 L359.95 292.70 Z M367.00 290.35 L369.05 292.70 L367.00 295.05 L364.95 292.70 Z M372.00 290.35 L374.05 292.70 L372.00 295.05 L369.95 292.70 Z M377.00 290.35 L379.05 292.70 L377.00 295.05 L374.95 292.70 Z M382.00 290.35 L384.05 292.70 L382.00 295.05 L379.95 292.70 Z M362.00 295.50 L364.05 297.85 L362.00 300.20 L359.95 297.85 Z M367.00 295.50 L369.05 297.85 L367.00 300.20 L364.95 297.85 Z M372.00 295.50 L374.05 297.85 L372.00 300.20 L369.95 297.85 Z M377.00 295.50 L379.05 297.85 L377.00 300.20 L374.95 297.85 Z M382.00 295.50 L384.05 297.85 L382.00 300.20 L379.95 297.85 Z M362.00 300.65 L364.05 303.00 L362.00 305.35 L359.95 303.00 Z M367.00 300.65 L369.05 303.00 L367.00 305.35 L364.95 303.00 Z M372.00 300.65 L374.05 303.00 L372.00 305.35 L369.95 303.00 Z M377.00 300.65 L379.05 303.00 L377.00 305.35 L374.95 303.00 Z M382.00 300.65 L384.05 303.00 L382.00 305.35 L379.95 303.00 Z M362.00 305.80 L364.05 308.15 L362.00 310.50 L359.95 308.15 Z M367.00 305.80 L369.05 308.15 L367.00 310.50 L364.95 308.15 Z M372.00 305.80 L374.05 308.15 L372.00 310.50 L369.95 308.15 Z M377.00 305.80 L379.05 308.15 L377.00 310.50 L374.95 308.15 Z M382.00 305.80 L384.05 308.15 L382.00 310.50 L379.95 308.15 Z M362.00 310.95 L364.05 313.30 L362.00 315.65 L359.95 313.30 Z M367.00 310.95 L369.05 313.30 L367.00 315.65 L364.95 313.30 Z M372.00 310.95 L374.05 313.30 L372.00 315.65 L369.95 313.30 Z M377.00 310.95 L379.05 313.30 L377.00 315.65 L374.95 313.30 Z M382.00 310.95 L384.05 313.30 L382.00 315.65 L379.95 313.30 Z M362.00 316.10 L364.05 318.45 L362.00 320.80 L359.95 318.45 Z M367.00 316.10 L369.05 318.45 L367.00 320.80 L364.95 318.45 Z M372.00 316.10 L374.05 318.45 L372.00 320.80 L369.95 318.45 Z M377.00 316.10 L379.05 318.45 L377.00 320.80 L374.95 318.45 Z M382.00 316.10 L384.05 318.45 L382.00 320.80 L379.95 318.45 Z M362.00 321.25 L364.05 323.60 L362.00 325.95 L359.95 323.60 Z M367.00 321.25 L369.05 323.60 L367.00 325.95 L364.95 323.60 Z M372.00 321.25 L374.05 323.60 L372.00 325.95 L369.95 323.60 Z M377.00 321.25 L379.05 323.60 L377.00 325.95 L374.95 323.60 Z M382.00 321.25 L384.05 323.60 L382.00 325.95 L379.95 323.60 Z M362.00 326.40 L364.05 328.75 L362.00 331.10 L359.95 328.75 Z M367.00 326.40 L369.05 328.75 L367.00 331.10 L364.95 328.75 Z M372.00 326.40 L374.05 328.75 L372.00 331.10 L369.95 328.75 Z M377.00 326.40 L379.05 328.75 L377.00 331.10 L374.95 328.75 Z M382.00 326.40 L384.05 328.75 L382.00 331.10 L379.95 328.75 Z M362.00 331.55 L364.05 333.90 L362.00 336.25 L359.95 333.90 Z M367.00 331.55 L369.05 333.90 L367.00 336.25 L364.95 333.90 Z M372.00 331.55 L374.05 333.90 L372.00 336.25 L369.95 333.90 Z M377.00 331.55 L379.05 333.90 L377.00 336.25 L374.95 333.90 Z M382.00 331.55 L384.05 333.90 L382.00 336.25 L379.95 333.90 Z M362.00 336.70 L364.05 339.05 L362.00 341.40 L359.95 339.05 Z M367.00 336.70 L369.05 339.05 L367.00 341.40 L364.95 339.05 Z M372.00 336.70 L374.05 339.05 L372.00 341.40 L369.95 339.05 Z M377.00 336.70 L379.05 339.05 L377.00 341.40 L374.95 339.05 Z M382.00 336.70 L384.05 339.05 L382.00 341.40 L379.95 339.05 Z M362.00 341.85 L364.05 344.20 L362.00 346.55 L359.95 344.20 Z M367.00 341.85 L369.05 344.20 L367.00 346.55 L364.95 344.20 Z M372.00 341.85 L374.05 344.20 L372.00 346.55 L369.95 344.20 Z M377.00 341.85 L379.05 344.20 L377.00 346.55 L374.95 344.20 Z M382.00 341.85 L384.05 344.20 L382.00 346.55 L379.95 344.20 Z M362.00 347.00 L364.05 349.35 L362.00 351.70 L359.95 349.35 Z M367.00 347.00 L369.05 349.35 L367.00 351.70 L364.95 349.35 Z M372.00 347.00 L374.05 349.35 L372.00 351.70 L369.95 349.35 Z M377.00 347.00 L379.05 349.35 L377.00 351.70 L374.95 349.35 Z M382.00 347.00 L384.05 349.35 L382.00 351.70 L379.95 349.35 Z M362.00 352.15 L364.05 354.50 L362.00 356.85 L359.95 354.50 Z M367.00 352.15 L369.05 354.50 L367.00 356.85 L364.95 354.50 Z M372.00 352.15 L374.05 354.50 L372.00 356.85 L369.95 354.50 Z M377.00 352.15 L379.05 354.50 L377.00 356.85 L374.95 354.50 Z M382.00 352.15 L384.05 354.50 L382.00 356.85 L379.95 354.50 Z" fill="#fff" opacity="0.7"/>
</g>
<text x="365.2" y="357.6" font-size="9.0" text-anchor="middle" font-weight="normal" fill="#111" textLength="14.4" lengthAdjust="spacing" >SIS</text>
<rect x="398.10" y="271.80" width="11.30" height="73.40" fill="url(#gT)"/>
<rect x="409.40" y="274.20" width="11.50" height="71.00" fill="url(#gT)"/>
<clipPath id="pc4"><rect x="409.40" y="274.20" width="11.50" height="71.00"/></clipPath>
<g clip-path="url(#pc4)">
<rect x="409.40" y="274.20" width="11.50" height="71.00" fill="#fff" opacity="0.22"/>
<path d="M405.90 267.63 L407.70 269.53 L405.90 271.43 L404.10 269.53 Z M410.90 267.63 L412.70 269.53 L410.90 271.43 L409.10 269.53 Z M415.90 267.63 L417.70 269.53 L415.90 271.43 L414.10 269.53 Z M420.90 267.63 L422.70 269.53 L420.90 271.43 L419.10 269.53 Z M425.90 267.63 L427.70 269.53 L425.90 271.43 L424.10 269.53 Z M405.90 272.78 L407.70 274.68 L405.90 276.57 L404.10 274.68 Z M410.90 272.78 L412.70 274.68 L410.90 276.57 L409.10 274.68 Z M415.90 272.78 L417.70 274.68 L415.90 276.57 L414.10 274.68 Z M420.90 272.78 L422.70 274.68 L420.90 276.57 L419.10 274.68 Z M425.90 272.78 L427.70 274.68 L425.90 276.57 L424.10 274.68 Z M405.90 277.93 L407.70 279.82 L405.90 281.72 L404.10 279.82 Z M410.90 277.93 L412.70 279.82 L410.90 281.72 L409.10 279.82 Z M415.90 277.93 L417.70 279.82 L415.90 281.72 L414.10 279.82 Z M420.90 277.93 L422.70 279.82 L420.90 281.72 L419.10 279.82 Z M425.90 277.93 L427.70 279.82 L425.90 281.72 L424.10 279.82 Z M405.90 283.08 L407.70 284.98 L405.90 286.88 L404.10 284.98 Z M410.90 283.08 L412.70 284.98 L410.90 286.88 L409.10 284.98 Z M415.90 283.08 L417.70 284.98 L415.90 286.88 L414.10 284.98 Z M420.90 283.08 L422.70 284.98 L420.90 286.88 L419.10 284.98 Z M425.90 283.08 L427.70 284.98 L425.90 286.88 L424.10 284.98 Z M405.90 288.23 L407.70 290.12 L405.90 292.02 L404.10 290.12 Z M410.90 288.23 L412.70 290.12 L410.90 292.02 L409.10 290.12 Z M415.90 288.23 L417.70 290.12 L415.90 292.02 L414.10 290.12 Z M420.90 288.23 L422.70 290.12 L420.90 292.02 L419.10 290.12 Z M425.90 288.23 L427.70 290.12 L425.90 292.02 L424.10 290.12 Z M405.90 293.38 L407.70 295.28 L405.90 297.18 L404.10 295.28 Z M410.90 293.38 L412.70 295.28 L410.90 297.18 L409.10 295.28 Z M415.90 293.38 L417.70 295.28 L415.90 297.18 L414.10 295.28 Z M420.90 293.38 L422.70 295.28 L420.90 297.18 L419.10 295.28 Z M425.90 293.38 L427.70 295.28 L425.90 297.18 L424.10 295.28 Z M405.90 298.53 L407.70 300.43 L405.90 302.32 L404.10 300.43 Z M410.90 298.53 L412.70 300.43 L410.90 302.32 L409.10 300.43 Z M415.90 298.53 L417.70 300.43 L415.90 302.32 L414.10 300.43 Z M420.90 298.53 L422.70 300.43 L420.90 302.32 L419.10 300.43 Z M425.90 298.53 L427.70 300.43 L425.90 302.32 L424.10 300.43 Z M405.90 303.68 L407.70 305.57 L405.90 307.47 L404.10 305.57 Z M410.90 303.68 L412.70 305.57 L410.90 307.47 L409.10 305.57 Z M415.90 303.68 L417.70 305.57 L415.90 307.47 L414.10 305.57 Z M420.90 303.68 L422.70 305.57 L420.90 307.47 L419.10 305.57 Z M425.90 303.68 L427.70 305.57 L425.90 307.47 L424.10 305.57 Z M405.90 308.83 L407.70 310.73 L405.90 312.62 L404.10 310.73 Z M410.90 308.83 L412.70 310.73 L410.90 312.62 L409.10 310.73 Z M415.90 308.83 L417.70 310.73 L415.90 312.62 L414.10 310.73 Z M420.90 308.83 L422.70 310.73 L420.90 312.62 L419.10 310.73 Z M425.90 308.83 L427.70 310.73 L425.90 312.62 L424.10 310.73 Z M405.90 313.98 L407.70 315.88 L405.90 317.77 L404.10 315.88 Z M410.90 313.98 L412.70 315.88 L410.90 317.77 L409.10 315.88 Z M415.90 313.98 L417.70 315.88 L415.90 317.77 L414.10 315.88 Z M420.90 313.98 L422.70 315.88 L420.90 317.77 L419.10 315.88 Z M425.90 313.98 L427.70 315.88 L425.90 317.77 L424.10 315.88 Z M405.90 319.13 L407.70 321.03 L405.90 322.93 L404.10 321.03 Z M410.90 319.13 L412.70 321.03 L410.90 322.93 L409.10 321.03 Z M415.90 319.13 L417.70 321.03 L415.90 322.93 L414.10 321.03 Z M420.90 319.13 L422.70 321.03 L420.90 322.93 L419.10 321.03 Z M425.90 319.13 L427.70 321.03 L425.90 322.93 L424.10 321.03 Z M405.90 324.28 L407.70 326.18 L405.90 328.07 L404.10 326.18 Z M410.90 324.28 L412.70 326.18 L410.90 328.07 L409.10 326.18 Z M415.90 324.28 L417.70 326.18 L415.90 328.07 L414.10 326.18 Z M420.90 324.28 L422.70 326.18 L420.90 328.07 L419.10 326.18 Z M425.90 324.28 L427.70 326.18 L425.90 328.07 L424.10 326.18 Z M405.90 329.43 L407.70 331.32 L405.90 333.22 L404.10 331.32 Z M410.90 329.43 L412.70 331.32 L410.90 333.22 L409.10 331.32 Z M415.90 329.43 L417.70 331.32 L415.90 333.22 L414.10 331.32 Z M420.90 329.43 L422.70 331.32 L420.90 333.22 L419.10 331.32 Z M425.90 329.43 L427.70 331.32 L425.90 333.22 L424.10 331.32 Z M405.90 334.58 L407.70 336.48 L405.90 338.38 L404.10 336.48 Z M410.90 334.58 L412.70 336.48 L410.90 338.38 L409.10 336.48 Z M415.90 334.58 L417.70 336.48 L415.90 338.38 L414.10 336.48 Z M420.90 334.58 L422.70 336.48 L420.90 338.38 L419.10 336.48 Z M425.90 334.58 L427.70 336.48 L425.90 338.38 L424.10 336.48 Z M405.90 339.73 L407.70 341.62 L405.90 343.52 L404.10 341.62 Z M410.90 339.73 L412.70 341.62 L410.90 343.52 L409.10 341.62 Z M415.90 339.73 L417.70 341.62 L415.90 343.52 L414.10 341.62 Z M420.90 339.73 L422.70 341.62 L420.90 343.52 L419.10 341.62 Z M425.90 339.73 L427.70 341.62 L425.90 343.52 L424.10 341.62 Z M405.90 344.88 L407.70 346.78 L405.90 348.68 L404.10 346.78 Z M410.90 344.88 L412.70 346.78 L410.90 348.68 L409.10 346.78 Z M415.90 344.88 L417.70 346.78 L415.90 348.68 L414.10 346.78 Z M420.90 344.88 L422.70 346.78 L420.90 348.68 L419.10 346.78 Z M425.90 344.88 L427.70 346.78 L425.90 348.68 L424.10 346.78 Z M405.90 350.03 L407.70 351.93 L405.90 353.82 L404.10 351.93 Z M410.90 350.03 L412.70 351.93 L410.90 353.82 L409.10 351.93 Z M415.90 350.03 L417.70 351.93 L415.90 353.82 L414.10 351.93 Z M420.90 350.03 L422.70 351.93 L420.90 353.82 L419.10 351.93 Z M425.90 350.03 L427.70 351.93 L425.90 353.82 L424.10 351.93 Z M405.90 355.18 L407.70 357.07 L405.90 358.97 L404.10 357.07 Z M410.90 355.18 L412.70 357.07 L410.90 358.97 L409.10 357.07 Z M415.90 355.18 L417.70 357.07 L415.90 358.97 L414.10 357.07 Z M420.90 355.18 L422.70 357.07 L420.90 358.97 L419.10 357.07 Z M425.90 355.18 L427.70 357.07 L425.90 358.97 L424.10 357.07 Z" fill="#e6bd98" opacity="0.32"/>
<path d="M403.40 264.60 L405.45 266.95 L403.40 269.30 L401.35 266.95 Z M408.40 264.60 L410.45 266.95 L408.40 269.30 L406.35 266.95 Z M413.40 264.60 L415.45 266.95 L413.40 269.30 L411.35 266.95 Z M418.40 264.60 L420.45 266.95 L418.40 269.30 L416.35 266.95 Z M423.40 264.60 L425.45 266.95 L423.40 269.30 L421.35 266.95 Z M403.40 269.75 L405.45 272.10 L403.40 274.45 L401.35 272.10 Z M408.40 269.75 L410.45 272.10 L408.40 274.45 L406.35 272.10 Z M413.40 269.75 L415.45 272.10 L413.40 274.45 L411.35 272.10 Z M418.40 269.75 L420.45 272.10 L418.40 274.45 L416.35 272.10 Z M423.40 269.75 L425.45 272.10 L423.40 274.45 L421.35 272.10 Z M403.40 274.90 L405.45 277.25 L403.40 279.60 L401.35 277.25 Z M408.40 274.90 L410.45 277.25 L408.40 279.60 L406.35 277.25 Z M413.40 274.90 L415.45 277.25 L413.40 279.60 L411.35 277.25 Z M418.40 274.90 L420.45 277.25 L418.40 279.60 L416.35 277.25 Z M423.40 274.90 L425.45 277.25 L423.40 279.60 L421.35 277.25 Z M403.40 280.05 L405.45 282.40 L403.40 284.75 L401.35 282.40 Z M408.40 280.05 L410.45 282.40 L408.40 284.75 L406.35 282.40 Z M413.40 280.05 L415.45 282.40 L413.40 284.75 L411.35 282.40 Z M418.40 280.05 L420.45 282.40 L418.40 284.75 L416.35 282.40 Z M423.40 280.05 L425.45 282.40 L423.40 284.75 L421.35 282.40 Z M403.40 285.20 L405.45 287.55 L403.40 289.90 L401.35 287.55 Z M408.40 285.20 L410.45 287.55 L408.40 289.90 L406.35 287.55 Z M413.40 285.20 L415.45 287.55 L413.40 289.90 L411.35 287.55 Z M418.40 285.20 L420.45 287.55 L418.40 289.90 L416.35 287.55 Z M423.40 285.20 L425.45 287.55 L423.40 289.90 L421.35 287.55 Z M403.40 290.35 L405.45 292.70 L403.40 295.05 L401.35 292.70 Z M408.40 290.35 L410.45 292.70 L408.40 295.05 L406.35 292.70 Z M413.40 290.35 L415.45 292.70 L413.40 295.05 L411.35 292.70 Z M418.40 290.35 L420.45 292.70 L418.40 295.05 L416.35 292.70 Z M423.40 290.35 L425.45 292.70 L423.40 295.05 L421.35 292.70 Z M403.40 295.50 L405.45 297.85 L403.40 300.20 L401.35 297.85 Z M408.40 295.50 L410.45 297.85 L408.40 300.20 L406.35 297.85 Z M413.40 295.50 L415.45 297.85 L413.40 300.20 L411.35 297.85 Z M418.40 295.50 L420.45 297.85 L418.40 300.20 L416.35 297.85 Z M423.40 295.50 L425.45 297.85 L423.40 300.20 L421.35 297.85 Z M403.40 300.65 L405.45 303.00 L403.40 305.35 L401.35 303.00 Z M408.40 300.65 L410.45 303.00 L408.40 305.35 L406.35 303.00 Z M413.40 300.65 L415.45 303.00 L413.40 305.35 L411.35 303.00 Z M418.40 300.65 L420.45 303.00 L418.40 305.35 L416.35 303.00 Z M423.40 300.65 L425.45 303.00 L423.40 305.35 L421.35 303.00 Z M403.40 305.80 L405.45 308.15 L403.40 310.50 L401.35 308.15 Z M408.40 305.80 L410.45 308.15 L408.40 310.50 L406.35 308.15 Z M413.40 305.80 L415.45 308.15 L413.40 310.50 L411.35 308.15 Z M418.40 305.80 L420.45 308.15 L418.40 310.50 L416.35 308.15 Z M423.40 305.80 L425.45 308.15 L423.40 310.50 L421.35 308.15 Z M403.40 310.95 L405.45 313.30 L403.40 315.65 L401.35 313.30 Z M408.40 310.95 L410.45 313.30 L408.40 315.65 L406.35 313.30 Z M413.40 310.95 L415.45 313.30 L413.40 315.65 L411.35 313.30 Z M418.40 310.95 L420.45 313.30 L418.40 315.65 L416.35 313.30 Z M423.40 310.95 L425.45 313.30 L423.40 315.65 L421.35 313.30 Z M403.40 316.10 L405.45 318.45 L403.40 320.80 L401.35 318.45 Z M408.40 316.10 L410.45 318.45 L408.40 320.80 L406.35 318.45 Z M413.40 316.10 L415.45 318.45 L413.40 320.80 L411.35 318.45 Z M418.40 316.10 L420.45 318.45 L418.40 320.80 L416.35 318.45 Z M423.40 316.10 L425.45 318.45 L423.40 320.80 L421.35 318.45 Z M403.40 321.25 L405.45 323.60 L403.40 325.95 L401.35 323.60 Z M408.40 321.25 L410.45 323.60 L408.40 325.95 L406.35 323.60 Z M413.40 321.25 L415.45 323.60 L413.40 325.95 L411.35 323.60 Z M418.40 321.25 L420.45 323.60 L418.40 325.95 L416.35 323.60 Z M423.40 321.25 L425.45 323.60 L423.40 325.95 L421.35 323.60 Z M403.40 326.40 L405.45 328.75 L403.40 331.10 L401.35 328.75 Z M408.40 326.40 L410.45 328.75 L408.40 331.10 L406.35 328.75 Z M413.40 326.40 L415.45 328.75 L413.40 331.10 L411.35 328.75 Z M418.40 326.40 L420.45 328.75 L418.40 331.10 L416.35 328.75 Z M423.40 326.40 L425.45 328.75 L423.40 331.10 L421.35 328.75 Z M403.40 331.55 L405.45 333.90 L403.40 336.25 L401.35 333.90 Z M408.40 331.55 L410.45 333.90 L408.40 336.25 L406.35 333.90 Z M413.40 331.55 L415.45 333.90 L413.40 336.25 L411.35 333.90 Z M418.40 331.55 L420.45 333.90 L418.40 336.25 L416.35 333.90 Z M423.40 331.55 L425.45 333.90 L423.40 336.25 L421.35 333.90 Z M403.40 336.70 L405.45 339.05 L403.40 341.40 L401.35 339.05 Z M408.40 336.70 L410.45 339.05 L408.40 341.40 L406.35 339.05 Z M413.40 336.70 L415.45 339.05 L413.40 341.40 L411.35 339.05 Z M418.40 336.70 L420.45 339.05 L418.40 341.40 L416.35 339.05 Z M423.40 336.70 L425.45 339.05 L423.40 341.40 L421.35 339.05 Z M403.40 341.85 L405.45 344.20 L403.40 346.55 L401.35 344.20 Z M408.40 341.85 L410.45 344.20 L408.40 346.55 L406.35 344.20 Z M413.40 341.85 L415.45 344.20 L413.40 346.55 L411.35 344.20 Z M418.40 341.85 L420.45 344.20 L418.40 346.55 L416.35 344.20 Z M423.40 341.85 L425.45 344.20 L423.40 346.55 L421.35 344.20 Z M403.40 347.00 L405.45 349.35 L403.40 351.70 L401.35 349.35 Z M408.40 347.00 L410.45 349.35 L408.40 351.70 L406.35 349.35 Z M413.40 347.00 L415.45 349.35 L413.40 351.70 L411.35 349.35 Z M418.40 347.00 L420.45 349.35 L418.40 351.70 L416.35 349.35 Z M423.40 347.00 L425.45 349.35 L423.40 351.70 L421.35 349.35 Z M403.40 352.15 L405.45 354.50 L403.40 356.85 L401.35 354.50 Z M408.40 352.15 L410.45 354.50 L408.40 356.85 L406.35 354.50 Z M413.40 352.15 L415.45 354.50 L413.40 356.85 L411.35 354.50 Z M418.40 352.15 L420.45 354.50 L418.40 356.85 L416.35 354.50 Z M423.40 352.15 L425.45 354.50 L423.40 356.85 L421.35 354.50 Z" fill="#fff" opacity="0.7"/>
</g>
<text x="409.7" y="357.6" font-size="9.0" text-anchor="middle" font-weight="normal" fill="#111" textLength="23.4" lengthAdjust="spacing" >SEBS</text>
<rect x="252.2" y="200.3" width="179.90000000000003" height="144.89999999999998" fill="none" stroke="#3a3a3a" stroke-width="1.05"/>
<line x1="275.20" y1="345.20" x2="275.20" y2="342.80" stroke="#222" stroke-width="0.8" />
<line x1="320.20" y1="345.20" x2="320.20" y2="342.80" stroke="#222" stroke-width="0.8" />
<line x1="365.20" y1="345.20" x2="365.20" y2="342.80" stroke="#222" stroke-width="0.8" />
<line x1="410.20" y1="345.20" x2="410.20" y2="342.80" stroke="#222" stroke-width="0.8" />
<line x1="297.60" y1="345.20" x2="297.60" y2="343.80" stroke="#222" stroke-width="0.8" />
<line x1="342.70" y1="345.20" x2="342.70" y2="343.80" stroke="#222" stroke-width="0.8" />
<line x1="387.70" y1="345.20" x2="387.70" y2="343.80" stroke="#222" stroke-width="0.8" />
<line x1="252.20" y1="345.10" x2="254.80" y2="345.10" stroke="#222" stroke-width="0.8" />
<text x="247.8" y="348.3" font-size="9.3" text-anchor="end" font-weight="normal" fill="#111" >10</text>
<line x1="252.20" y1="296.95" x2="254.80" y2="296.95" stroke="#222" stroke-width="0.8" />
<text x="247.8" y="300.15000000000003" font-size="9.3" text-anchor="end" font-weight="normal" fill="#111" >15</text>
<line x1="252.20" y1="248.80" x2="254.80" y2="248.80" stroke="#222" stroke-width="0.8" />
<text x="247.8" y="252.0" font-size="9.3" text-anchor="end" font-weight="normal" fill="#111" >20</text>
<line x1="252.20" y1="200.65" x2="254.80" y2="200.65" stroke="#222" stroke-width="0.8" />
<text x="247.8" y="203.85" font-size="9.3" text-anchor="end" font-weight="normal" fill="#111" >25</text>
<line x1="252.20" y1="321.03" x2="253.70" y2="321.03" stroke="#222" stroke-width="0.8" />
<line x1="252.20" y1="272.88" x2="253.70" y2="272.88" stroke="#222" stroke-width="0.8" />
<line x1="252.20" y1="224.73" x2="253.70" y2="224.73" stroke="#222" stroke-width="0.8" />
<line x1="432.10" y1="345.20" x2="429.50" y2="345.20" stroke="#222" stroke-width="0.8" />
<text x="436.4" y="348.2" font-size="8.5" text-anchor="start" font-weight="normal" fill="#111" >0</text>
<line x1="432.10" y1="316.29" x2="429.50" y2="316.29" stroke="#222" stroke-width="0.8" />
<text x="436.4" y="319.28999999999996" font-size="8.5" text-anchor="start" font-weight="normal" fill="#111" >5</text>
<line x1="432.10" y1="287.38" x2="429.50" y2="287.38" stroke="#222" stroke-width="0.8" />
<text x="436.4" y="290.38" font-size="8.5" text-anchor="start" font-weight="normal" fill="#111" >10</text>
<line x1="432.10" y1="258.47" x2="429.50" y2="258.47" stroke="#222" stroke-width="0.8" />
<text x="436.4" y="261.46999999999997" font-size="8.5" text-anchor="start" font-weight="normal" fill="#111" >15</text>
<line x1="432.10" y1="229.56" x2="429.50" y2="229.56" stroke="#222" stroke-width="0.8" />
<text x="436.4" y="232.56" font-size="8.5" text-anchor="start" font-weight="normal" fill="#111" >20</text>
<line x1="432.10" y1="200.65" x2="429.50" y2="200.65" stroke="#222" stroke-width="0.8" />
<text x="436.4" y="203.64999999999998" font-size="8.5" text-anchor="start" font-weight="normal" fill="#111" >25</text>
<line x1="432.10" y1="330.75" x2="430.60" y2="330.75" stroke="#222" stroke-width="0.8" />
<line x1="432.10" y1="301.83" x2="430.60" y2="301.83" stroke="#222" stroke-width="0.8" />
<line x1="432.10" y1="272.92" x2="430.60" y2="272.92" stroke="#222" stroke-width="0.8" />
<line x1="432.10" y1="244.01" x2="430.60" y2="244.01" stroke="#222" stroke-width="0.8" />
<line x1="432.10" y1="215.10" x2="430.60" y2="215.10" stroke="#222" stroke-width="0.8" />
<text x="229.0" y="274.4" font-size="9.3" text-anchor="middle" font-weight="normal" fill="#111" textLength="93.6" lengthAdjust="spacing" transform="rotate(-90 229.0 274.4)" >Young's modulus (MPa)</text>
<text x="461.0" y="272.9" font-size="9.3" text-anchor="middle" font-weight="normal" fill="#111" textLength="37.4" lengthAdjust="spacing" transform="rotate(-90 461.0 272.9)" >COS (%)</text>
<text x="429.6" y="210.9" font-size="8.05" text-anchor="end" font-weight="normal" fill="#111" textLength="48" lengthAdjust="spacing" >FOW method</text>
<rect x="258.60" y="203.90" width="17.60" height="7.70" fill="url(#gG)"/>
<rect x="258.60" y="213.60" width="17.60" height="8.60" fill="url(#gG)"/>
<clipPath id="pc5"><rect x="258.60" y="213.60" width="17.60" height="8.60"/></clipPath>
<g clip-path="url(#pc5)">
<rect x="258.60" y="213.60" width="17.60" height="8.60" fill="#fff" opacity="0.22"/>
<path d="M257.10 205.83 L258.90 207.73 L257.10 209.63 L255.30 207.73 Z M262.10 205.83 L263.90 207.73 L262.10 209.63 L260.30 207.73 Z M267.10 205.83 L268.90 207.73 L267.10 209.63 L265.30 207.73 Z M272.10 205.83 L273.90 207.73 L272.10 209.63 L270.30 207.73 Z M277.10 205.83 L278.90 207.73 L277.10 209.63 L275.30 207.73 Z M257.10 210.97 L258.90 212.88 L257.10 214.78 L255.30 212.88 Z M262.10 210.97 L263.90 212.88 L262.10 214.78 L260.30 212.88 Z M267.10 210.97 L268.90 212.88 L267.10 214.78 L265.30 212.88 Z M272.10 210.97 L273.90 212.88 L272.10 214.78 L270.30 212.88 Z M277.10 210.97 L278.90 212.88 L277.10 214.78 L275.30 212.88 Z M257.10 216.12 L258.90 218.03 L257.10 219.93 L255.30 218.03 Z M262.10 216.12 L263.90 218.03 L262.10 219.93 L260.30 218.03 Z M267.10 216.12 L268.90 218.03 L267.10 219.93 L265.30 218.03 Z M272.10 216.12 L273.90 218.03 L272.10 219.93 L270.30 218.03 Z M277.10 216.12 L278.90 218.03 L277.10 219.93 L275.30 218.03 Z M257.10 221.28 L258.90 223.18 L257.10 225.08 L255.30 223.18 Z M262.10 221.28 L263.90 223.18 L262.10 225.08 L260.30 223.18 Z M267.10 221.28 L268.90 223.18 L267.10 225.08 L265.30 223.18 Z M272.10 221.28 L273.90 223.18 L272.10 225.08 L270.30 223.18 Z M277.10 221.28 L278.90 223.18 L277.10 225.08 L275.30 223.18 Z M257.10 226.42 L258.90 228.32 L257.10 230.22 L255.30 228.32 Z M262.10 226.42 L263.90 228.32 L262.10 230.22 L260.30 228.32 Z M267.10 226.42 L268.90 228.32 L267.10 230.22 L265.30 228.32 Z M272.10 226.42 L273.90 228.32 L272.10 230.22 L270.30 228.32 Z M277.10 226.42 L278.90 228.32 L277.10 230.22 L275.30 228.32 Z M257.10 231.58 L258.90 233.48 L257.10 235.38 L255.30 233.48 Z M262.10 231.58 L263.90 233.48 L262.10 235.38 L260.30 233.48 Z M267.10 231.58 L268.90 233.48 L267.10 235.38 L265.30 233.48 Z M272.10 231.58 L273.90 233.48 L272.10 235.38 L270.30 233.48 Z M277.10 231.58 L278.90 233.48 L277.10 235.38 L275.30 233.48 Z" fill="#7fbd7f" opacity="0.32"/>
<path d="M254.60 202.80 L256.65 205.15 L254.60 207.50 L252.55 205.15 Z M259.60 202.80 L261.65 205.15 L259.60 207.50 L257.55 205.15 Z M264.60 202.80 L266.65 205.15 L264.60 207.50 L262.55 205.15 Z M269.60 202.80 L271.65 205.15 L269.60 207.50 L267.55 205.15 Z M274.60 202.80 L276.65 205.15 L274.60 207.50 L272.55 205.15 Z M254.60 207.95 L256.65 210.30 L254.60 212.65 L252.55 210.30 Z M259.60 207.95 L261.65 210.30 L259.60 212.65 L257.55 210.30 Z M264.60 207.95 L266.65 210.30 L264.60 212.65 L262.55 210.30 Z M269.60 207.95 L271.65 210.30 L269.60 212.65 L267.55 210.30 Z M274.60 207.95 L276.65 210.30 L274.60 212.65 L272.55 210.30 Z M254.60 213.10 L256.65 215.45 L254.60 217.80 L252.55 215.45 Z M259.60 213.10 L261.65 215.45 L259.60 217.80 L257.55 215.45 Z M264.60 213.10 L266.65 215.45 L264.60 217.80 L262.55 215.45 Z M269.60 213.10 L271.65 215.45 L269.60 217.80 L267.55 215.45 Z M274.60 213.10 L276.65 215.45 L274.60 217.80 L272.55 215.45 Z M254.60 218.25 L256.65 220.60 L254.60 222.95 L252.55 220.60 Z M259.60 218.25 L261.65 220.60 L259.60 222.95 L257.55 220.60 Z M264.60 218.25 L266.65 220.60 L264.60 222.95 L262.55 220.60 Z M269.60 218.25 L271.65 220.60 L269.60 222.95 L267.55 220.60 Z M274.60 218.25 L276.65 220.60 L274.60 222.95 L272.55 220.60 Z M254.60 223.40 L256.65 225.75 L254.60 228.10 L252.55 225.75 Z M259.60 223.40 L261.65 225.75 L259.60 228.10 L257.55 225.75 Z M264.60 223.40 L266.65 225.75 L264.60 228.10 L262.55 225.75 Z M269.60 223.40 L271.65 225.75 L269.60 228.10 L267.55 225.75 Z M274.60 223.40 L276.65 225.75 L274.60 228.10 L272.55 225.75 Z M254.60 228.55 L256.65 230.90 L254.60 233.25 L252.55 230.90 Z M259.60 228.55 L261.65 230.90 L259.60 233.25 L257.55 230.90 Z M264.60 228.55 L266.65 230.90 L264.60 233.25 L262.55 230.90 Z M269.60 228.55 L271.65 230.90 L269.60 233.25 L267.55 230.90 Z M274.60 228.55 L276.65 230.90 L274.60 233.25 L272.55 230.90 Z" fill="#fff" opacity="0.7"/>
</g>
<text x="280.4" y="210.9" font-size="8.05" text-anchor="start" font-weight="normal" fill="#111" textLength="56.5" lengthAdjust="spacing" >Young's modulus</text>
<text x="280.6" y="220.7" font-size="8.0" text-anchor="start" font-weight="normal" fill="#111" textLength="15.6" lengthAdjust="spacing" >COS</text>
<line x1="269.60" y1="238.30" x2="255.80" y2="238.30" stroke="#111" stroke-width="0.8" />
<path d="M255.8 238.3 L260.0 236.9 L260.0 239.70000000000002 Z" fill="#111"/>
<line x1="282.30" y1="289.80" x2="295.60" y2="289.80" stroke="#111" stroke-width="0.8" />
<path d="M295.6 289.8 L291.40000000000003 288.40000000000003 L291.40000000000003 291.2 Z" fill="#111"/>
<rect x="518.40" y="311.10" width="10.15" height="33.30" fill="url(#gG)"/>
<line x1="523.48" y1="309.60" x2="523.48" y2="312.70" stroke="#222" stroke-width="0.65" />
<line x1="521.58" y1="309.60" x2="525.38" y2="309.60" stroke="#222" stroke-width="0.65" />
<line x1="521.58" y1="312.70" x2="525.38" y2="312.70" stroke="#222" stroke-width="0.65" />
<rect x="538.80" y="264.50" width="10.15" height="79.90" fill="url(#gR)"/>
<line x1="543.88" y1="261.00" x2="543.88" y2="267.80" stroke="#222" stroke-width="0.65" />
<line x1="541.98" y1="261.00" x2="545.77" y2="261.00" stroke="#222" stroke-width="0.65" />
<line x1="541.98" y1="267.80" x2="545.77" y2="267.80" stroke="#222" stroke-width="0.65" />
<rect x="548.95" y="295.20" width="10.15" height="49.20" fill="url(#gB)"/>
<line x1="554.02" y1="291.30" x2="554.02" y2="298.40" stroke="#222" stroke-width="0.65" />
<line x1="552.12" y1="291.30" x2="555.92" y2="291.30" stroke="#222" stroke-width="0.65" />
<line x1="552.12" y1="298.40" x2="555.92" y2="298.40" stroke="#222" stroke-width="0.65" />
<rect x="559.10" y="304.00" width="10.15" height="40.40" fill="url(#gT)"/>
<line x1="564.17" y1="303.20" x2="564.17" y2="304.80" stroke="#222" stroke-width="0.65" />
<line x1="562.27" y1="303.20" x2="566.07" y2="303.20" stroke="#222" stroke-width="0.65" />
<line x1="562.27" y1="304.80" x2="566.07" y2="304.80" stroke="#222" stroke-width="0.65" />
<rect x="589.00" y="257.50" width="10.15" height="86.90" fill="url(#gR)"/>
<line x1="594.08" y1="253.40" x2="594.08" y2="261.60" stroke="#222" stroke-width="0.65" />
<line x1="592.18" y1="253.40" x2="595.98" y2="253.40" stroke="#222" stroke-width="0.65" />
<line x1="592.18" y1="261.60" x2="595.98" y2="261.60" stroke="#222" stroke-width="0.65" />
<rect x="599.15" y="284.70" width="10.15" height="59.70" fill="url(#gB)"/>
<line x1="604.23" y1="282.10" x2="604.23" y2="287.00" stroke="#222" stroke-width="0.65" />
<line x1="602.33" y1="282.10" x2="606.12" y2="282.10" stroke="#222" stroke-width="0.65" />
<line x1="602.33" y1="287.00" x2="606.12" y2="287.00" stroke="#222" stroke-width="0.65" />
<rect x="609.30" y="298.90" width="10.15" height="45.50" fill="url(#gT)"/>
<line x1="614.38" y1="298.30" x2="614.38" y2="299.50" stroke="#222" stroke-width="0.65" />
<line x1="612.48" y1="298.30" x2="616.27" y2="298.30" stroke="#222" stroke-width="0.65" />
<line x1="612.48" y1="299.50" x2="616.27" y2="299.50" stroke="#222" stroke-width="0.65" />
<rect x="639.20" y="223.90" width="10.15" height="120.50" fill="url(#gR)"/>
<line x1="644.28" y1="216.20" x2="644.28" y2="231.50" stroke="#222" stroke-width="0.65" />
<line x1="642.38" y1="216.20" x2="646.18" y2="216.20" stroke="#222" stroke-width="0.65" />
<line x1="642.38" y1="231.50" x2="646.18" y2="231.50" stroke="#222" stroke-width="0.65" />
<rect x="649.35" y="279.00" width="10.15" height="65.40" fill="url(#gB)"/>
<line x1="654.43" y1="275.30" x2="654.43" y2="282.50" stroke="#222" stroke-width="0.65" />
<line x1="652.53" y1="275.30" x2="656.33" y2="275.30" stroke="#222" stroke-width="0.65" />
<line x1="652.53" y1="282.50" x2="656.33" y2="282.50" stroke="#222" stroke-width="0.65" />
<rect x="659.50" y="295.20" width="10.15" height="49.20" fill="url(#gT)"/>
<line x1="664.58" y1="292.30" x2="664.58" y2="297.80" stroke="#222" stroke-width="0.65" />
<line x1="662.68" y1="292.30" x2="666.48" y2="292.30" stroke="#222" stroke-width="0.65" />
<line x1="662.68" y1="297.80" x2="666.48" y2="297.80" stroke="#222" stroke-width="0.65" />
<rect x="506.2" y="200.5" width="178.2" height="143.89999999999998" fill="none" stroke="#3a3a3a" stroke-width="1.05"/>
<line x1="506.20" y1="344.30" x2="508.80" y2="344.30" stroke="#222" stroke-width="0.8" />
<text x="501.3" y="347.5" font-size="9.3" text-anchor="end" font-weight="normal" fill="#111" >0</text>
<line x1="506.20" y1="312.36" x2="508.80" y2="312.36" stroke="#222" stroke-width="0.8" />
<text x="501.3" y="315.56" font-size="9.3" text-anchor="end" font-weight="normal" fill="#111" >20</text>
<line x1="506.20" y1="280.42" x2="508.80" y2="280.42" stroke="#222" stroke-width="0.8" />
<text x="501.3" y="283.62" font-size="9.3" text-anchor="end" font-weight="normal" fill="#111" >40</text>
<line x1="506.20" y1="248.48" x2="508.80" y2="248.48" stroke="#222" stroke-width="0.8" />
<text x="501.3" y="251.68" font-size="9.3" text-anchor="end" font-weight="normal" fill="#111" >60</text>
<line x1="506.20" y1="216.54" x2="508.80" y2="216.54" stroke="#222" stroke-width="0.8" />
<text x="501.3" y="219.74" font-size="9.3" text-anchor="end" font-weight="normal" fill="#111" >80</text>
<line x1="506.20" y1="328.33" x2="507.70" y2="328.33" stroke="#222" stroke-width="0.8" />
<line x1="506.20" y1="296.39" x2="507.70" y2="296.39" stroke="#222" stroke-width="0.8" />
<line x1="506.20" y1="264.45" x2="507.70" y2="264.45" stroke="#222" stroke-width="0.8" />
<line x1="506.20" y1="232.51" x2="507.70" y2="232.51" stroke="#222" stroke-width="0.8" />
<line x1="558.90" y1="344.40" x2="558.90" y2="342.00" stroke="#222" stroke-width="0.8" />
<text x="558.9" y="356.3" font-size="9.2" text-anchor="middle" font-weight="normal" fill="#111" >10</text>
<line x1="609.10" y1="344.40" x2="609.10" y2="342.00" stroke="#222" stroke-width="0.8" />
<text x="609.1" y="356.3" font-size="9.2" text-anchor="middle" font-weight="normal" fill="#111" >20</text>
<line x1="659.20" y1="344.40" x2="659.20" y2="342.00" stroke="#222" stroke-width="0.8" />
<text x="659.2" y="356.3" font-size="9.2" text-anchor="middle" font-weight="normal" fill="#111" >30</text>
<line x1="584.00" y1="344.40" x2="584.00" y2="343.00" stroke="#222" stroke-width="0.8" />
<line x1="634.20" y1="344.40" x2="634.20" y2="343.00" stroke="#222" stroke-width="0.8" />
<text x="595.6" y="369.7" font-size="9.3" text-anchor="middle" font-weight="normal" fill="#111" textLength="90.4" lengthAdjust="spacing" >Elastomer amount (%)</text>
<text x="483.0" y="272.9" font-size="9.3" text-anchor="middle" font-weight="normal" fill="#111" textLength="37.4" lengthAdjust="spacing" transform="rotate(-90 483.0 272.9)" >COS (%)</text>
<text x="677.2" y="210.9" font-size="8.05" text-anchor="end" font-weight="normal" fill="#111" textLength="42.4" lengthAdjust="spacing" >FOE method</text>
<rect x="512.30" y="204.30" width="17.60" height="7.80" fill="url(#gR)"/>
<text x="533.8" y="211" font-size="7.8" text-anchor="start" font-weight="normal" fill="#111" textLength="14.6" lengthAdjust="spacing" >SBS</text>
<rect x="512.30" y="214.50" width="17.60" height="7.80" fill="url(#gB)"/>
<text x="533.8" y="220.8" font-size="7.8" text-anchor="start" font-weight="normal" fill="#111" textLength="11.5" lengthAdjust="spacing" >SIS</text>
<rect x="512.30" y="224.40" width="17.60" height="8.10" fill="url(#gT)"/>
<text x="533.8" y="230.8" font-size="7.8" text-anchor="start" font-weight="normal" fill="#111" textLength="19.6" lengthAdjust="spacing" >SEBS</text>
<rect x="512.30" y="234.60" width="17.60" height="8.20" fill="url(#gG)"/>
<text x="533.8" y="240.7" font-size="7.8" text-anchor="start" font-weight="normal" fill="#111" textLength="14.8" lengthAdjust="spacing" >GPF</text>
</svg>
</body></html>
